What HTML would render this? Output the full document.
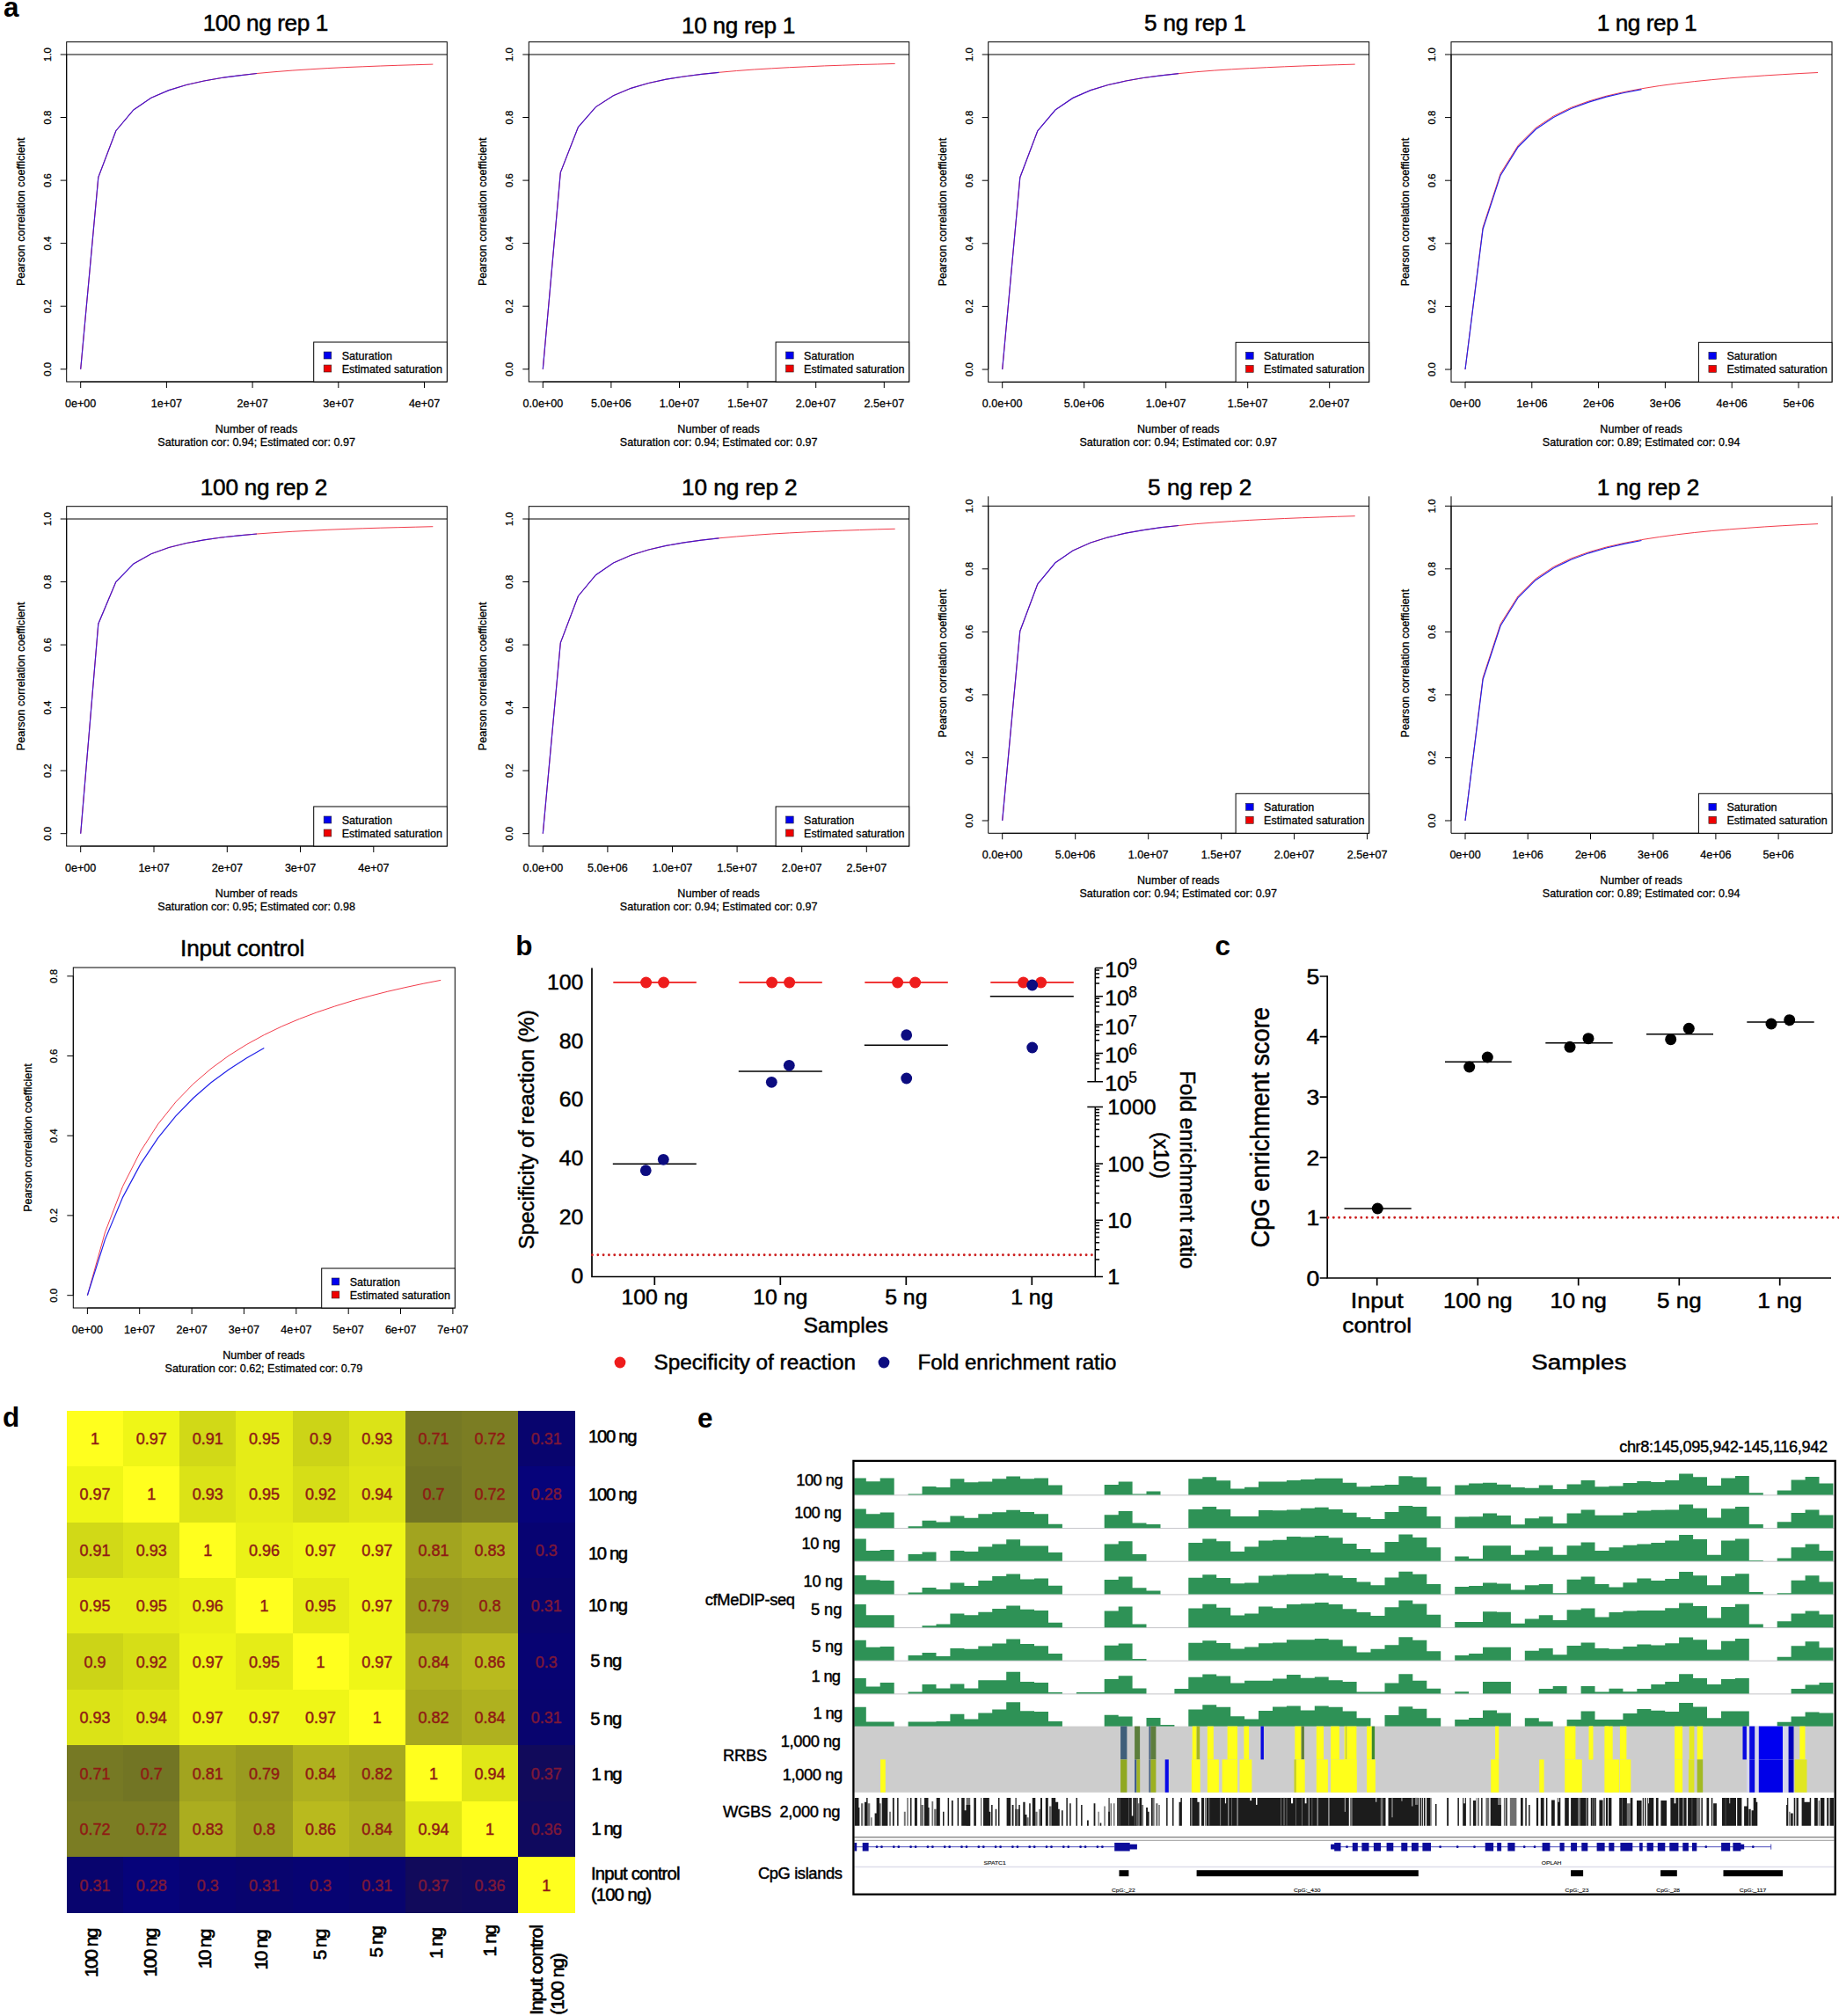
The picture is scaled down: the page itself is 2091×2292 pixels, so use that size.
<!DOCTYPE html>
<html lang="en"><head><meta charset="utf-8"><title>Figure</title>
<style>
html,body{margin:0;padding:0;background:#fff}
svg{display:block}
text{font-family:"Liberation Sans",sans-serif}
</style></head><body>
<svg width="2091" height="2292" viewBox="0 0 2091 2292">
<rect width="2091" height="2292" fill="#fff"/>
<g id="panel-a">
<rect x="75.7" y="47.7" width="432.6" height="386.3" fill="none" stroke="#000" stroke-width="1"/>
<path d="M75.7 62.0H508.3" stroke="#000" stroke-width="1"/>
<path d="M91.7 419.7L111.8 201.6L131.8 148.7L151.8 124.9L171.8 111.3L191.9 102.6L211.9 96.5L231.9 92.0L251.9 88.5L272.0 85.8L292.0 83.5L312.0 81.7L332.1 80.1L352.1 78.8L372.1 77.6L392.1 76.6L412.2 75.8L432.2 75.0L452.2 74.3L472.2 73.7L492.3 73.1" fill="none" stroke="#f03040" stroke-width="0.95"/>
<path d="M91.7 419.7L111.8 201.6L131.8 148.7L151.8 124.9L171.8 111.3L191.9 102.6L211.9 96.5L231.9 92.0L251.9 88.5L272.0 85.8L292.0 83.5" fill="none" stroke="#4414cc" stroke-width="1.2"/>
<text x="57.8" y="419.7" font-size="11.4" text-anchor="middle" transform="rotate(-90 57.8 419.7)" stroke="#000" stroke-width="0.28">0.0</text>
<text x="57.8" y="348.2" font-size="11.4" text-anchor="middle" transform="rotate(-90 57.8 348.2)" stroke="#000" stroke-width="0.28">0.2</text>
<text x="57.8" y="276.6" font-size="11.4" text-anchor="middle" transform="rotate(-90 57.8 276.6)" stroke="#000" stroke-width="0.28">0.4</text>
<text x="57.8" y="205.1" font-size="11.4" text-anchor="middle" transform="rotate(-90 57.8 205.1)" stroke="#000" stroke-width="0.28">0.6</text>
<text x="57.8" y="133.5" font-size="11.4" text-anchor="middle" transform="rotate(-90 57.8 133.5)" stroke="#000" stroke-width="0.28">0.8</text>
<text x="57.8" y="62.0" font-size="11.4" text-anchor="middle" transform="rotate(-90 57.8 62.0)" stroke="#000" stroke-width="0.28">1.0</text>
<text x="91.7" y="462.7" font-size="12.55" text-anchor="middle" stroke="#000" stroke-width="0.28">0e+00</text>
<text x="189.4" y="462.7" font-size="12.55" text-anchor="middle" stroke="#000" stroke-width="0.28">1e+07</text>
<text x="287.1" y="462.7" font-size="12.55" text-anchor="middle" stroke="#000" stroke-width="0.28">2e+07</text>
<text x="384.8" y="462.7" font-size="12.55" text-anchor="middle" stroke="#000" stroke-width="0.28">3e+07</text>
<text x="482.5" y="462.7" font-size="12.55" text-anchor="middle" stroke="#000" stroke-width="0.28">4e+07</text>
<path d="M75.7 419.7h-7M75.7 348.2h-7M75.7 276.6h-7M75.7 205.1h-7M75.7 133.5h-7M75.7 62.0h-7M75.7 419.7V62.0M91.7 434.0v7M189.4 434.0v7M287.1 434.0v7M384.8 434.0v7M482.5 434.0v7M91.7 434.0H482.5" stroke="#000" stroke-width="1" fill="none"/>
<text x="291.6" y="492.0" font-size="12.55" text-anchor="middle" stroke="#000" stroke-width="0.28">Number of reads</text>
<text x="291.6" y="506.7" font-size="12.55" text-anchor="middle" stroke="#000" stroke-width="0.28">Saturation cor: 0.94; Estimated cor: 0.97</text>
<text x="27.9" y="240.8" font-size="12.55" text-anchor="middle" transform="rotate(-90 27.9 240.8)" stroke="#000" stroke-width="0.28">Pearson correlation coefficient</text>
<text x="302.0" y="34.5" font-size="26.2" text-anchor="middle" textLength="142.6" lengthAdjust="spacing" stroke="#000" stroke-width="0.5">100 ng rep 1</text>
<rect x="356.7" y="389.0" width="151.6" height="45" fill="#fff" stroke="#000" stroke-width="1"/>
<rect x="368.2" y="400.0" width="8.6" height="8" fill="#0000f0" stroke="#223" stroke-width="0.6"/>
<rect x="368.2" y="415.0" width="8.6" height="8" fill="#f00000" stroke="#322" stroke-width="0.6"/>
<text x="388.7" y="408.7" font-size="12.55" text-anchor="start" stroke="#000" stroke-width="0.28">Saturation</text>
<text x="388.7" y="423.6" font-size="12.55" text-anchor="start" stroke="#000" stroke-width="0.28">Estimated saturation</text>
<rect x="601.3" y="47.7" width="432.4" height="386.3" fill="none" stroke="#000" stroke-width="1"/>
<path d="M601.3 62.0H1033.7" stroke="#000" stroke-width="1"/>
<path d="M617.3 419.7L637.3 196.1L657.4 144.6L677.4 121.6L697.4 108.7L717.4 100.3L737.4 94.5L757.4 90.2L777.5 87.0L797.5 84.4L817.5 82.3L837.5 80.5L857.5 79.0L877.6 77.8L897.6 76.7L917.6 75.8L937.6 74.9L957.6 74.2L977.6 73.5L997.7 73.0L1017.7 72.4" fill="none" stroke="#f03040" stroke-width="0.95"/>
<path d="M617.3 419.7L637.3 196.1L657.4 144.6L677.4 121.6L697.4 108.7L717.4 100.3L737.4 94.5L757.4 90.2L777.5 87.0L797.5 84.4L817.5 82.3" fill="none" stroke="#4414cc" stroke-width="1.2"/>
<text x="583.4" y="419.7" font-size="11.4" text-anchor="middle" transform="rotate(-90 583.4 419.7)" stroke="#000" stroke-width="0.28">0.0</text>
<text x="583.4" y="348.2" font-size="11.4" text-anchor="middle" transform="rotate(-90 583.4 348.2)" stroke="#000" stroke-width="0.28">0.2</text>
<text x="583.4" y="276.6" font-size="11.4" text-anchor="middle" transform="rotate(-90 583.4 276.6)" stroke="#000" stroke-width="0.28">0.4</text>
<text x="583.4" y="205.1" font-size="11.4" text-anchor="middle" transform="rotate(-90 583.4 205.1)" stroke="#000" stroke-width="0.28">0.6</text>
<text x="583.4" y="133.5" font-size="11.4" text-anchor="middle" transform="rotate(-90 583.4 133.5)" stroke="#000" stroke-width="0.28">0.8</text>
<text x="583.4" y="62.0" font-size="11.4" text-anchor="middle" transform="rotate(-90 583.4 62.0)" stroke="#000" stroke-width="0.28">1.0</text>
<text x="617.3" y="462.7" font-size="12.55" text-anchor="middle" stroke="#000" stroke-width="0.28">0.0e+00</text>
<text x="694.9" y="462.7" font-size="12.55" text-anchor="middle" stroke="#000" stroke-width="0.28">5.0e+06</text>
<text x="772.5" y="462.7" font-size="12.55" text-anchor="middle" stroke="#000" stroke-width="0.28">1.0e+07</text>
<text x="850.1" y="462.7" font-size="12.55" text-anchor="middle" stroke="#000" stroke-width="0.28">1.5e+07</text>
<text x="927.7" y="462.7" font-size="12.55" text-anchor="middle" stroke="#000" stroke-width="0.28">2.0e+07</text>
<text x="1005.3" y="462.7" font-size="12.55" text-anchor="middle" stroke="#000" stroke-width="0.28">2.5e+07</text>
<path d="M601.3 419.7h-7M601.3 348.2h-7M601.3 276.6h-7M601.3 205.1h-7M601.3 133.5h-7M601.3 62.0h-7M601.3 419.7V62.0M617.3 434.0v7M694.9 434.0v7M772.5 434.0v7M850.1 434.0v7M927.7 434.0v7M1005.3 434.0v7M617.3 434.0H1005.3" stroke="#000" stroke-width="1" fill="none"/>
<text x="817.1" y="492.0" font-size="12.55" text-anchor="middle" stroke="#000" stroke-width="0.28">Number of reads</text>
<text x="817.1" y="506.7" font-size="12.55" text-anchor="middle" stroke="#000" stroke-width="0.28">Saturation cor: 0.94; Estimated cor: 0.97</text>
<text x="553.5" y="240.8" font-size="12.55" text-anchor="middle" transform="rotate(-90 553.5 240.8)" stroke="#000" stroke-width="0.28">Pearson correlation coefficient</text>
<text x="839.7" y="38.1" font-size="26.2" text-anchor="middle" textLength="129.2" lengthAdjust="spacing" stroke="#000" stroke-width="0.5">10 ng rep 1</text>
<rect x="882.1" y="389.0" width="151.6" height="45" fill="#fff" stroke="#000" stroke-width="1"/>
<rect x="893.6" y="400.0" width="8.6" height="8" fill="#0000f0" stroke="#223" stroke-width="0.6"/>
<rect x="893.6" y="415.0" width="8.6" height="8" fill="#f00000" stroke="#322" stroke-width="0.6"/>
<text x="914.1" y="408.7" font-size="12.55" text-anchor="start" stroke="#000" stroke-width="0.28">Saturation</text>
<text x="914.1" y="423.6" font-size="12.55" text-anchor="start" stroke="#000" stroke-width="0.28">Estimated saturation</text>
<rect x="1123.7" y="47.7" width="433.0" height="386.6" fill="none" stroke="#000" stroke-width="1"/>
<path d="M1123.7 62.0H1556.7" stroke="#000" stroke-width="1"/>
<path d="M1139.7 420.0L1159.8 201.7L1179.8 148.8L1199.9 125.0L1219.9 111.4L1240.0 102.6L1260.0 96.5L1280.1 92.0L1300.1 88.5L1320.2 85.8L1340.2 83.6L1360.2 81.7L1380.3 80.1L1400.3 78.8L1420.4 77.7L1440.4 76.7L1460.5 75.8L1480.5 75.0L1500.6 74.3L1520.6 73.7L1540.7 73.1" fill="none" stroke="#f03040" stroke-width="0.95"/>
<path d="M1139.7 420.0L1159.8 201.7L1179.8 148.8L1199.9 125.0L1219.9 111.4L1240.0 102.6L1260.0 96.5L1280.1 92.0L1300.1 88.5L1320.2 85.8L1340.2 83.6" fill="none" stroke="#4414cc" stroke-width="1.2"/>
<text x="1105.8" y="420.0" font-size="11.4" text-anchor="middle" transform="rotate(-90 1105.8 420.0)" stroke="#000" stroke-width="0.28">0.0</text>
<text x="1105.8" y="348.4" font-size="11.4" text-anchor="middle" transform="rotate(-90 1105.8 348.4)" stroke="#000" stroke-width="0.28">0.2</text>
<text x="1105.8" y="276.8" font-size="11.4" text-anchor="middle" transform="rotate(-90 1105.8 276.8)" stroke="#000" stroke-width="0.28">0.4</text>
<text x="1105.8" y="205.2" font-size="11.4" text-anchor="middle" transform="rotate(-90 1105.8 205.2)" stroke="#000" stroke-width="0.28">0.6</text>
<text x="1105.8" y="133.6" font-size="11.4" text-anchor="middle" transform="rotate(-90 1105.8 133.6)" stroke="#000" stroke-width="0.28">0.8</text>
<text x="1105.8" y="62.0" font-size="11.4" text-anchor="middle" transform="rotate(-90 1105.8 62.0)" stroke="#000" stroke-width="0.28">1.0</text>
<text x="1139.7" y="463.0" font-size="12.55" text-anchor="middle" stroke="#000" stroke-width="0.28">0.0e+00</text>
<text x="1232.7" y="463.0" font-size="12.55" text-anchor="middle" stroke="#000" stroke-width="0.28">5.0e+06</text>
<text x="1325.7" y="463.0" font-size="12.55" text-anchor="middle" stroke="#000" stroke-width="0.28">1.0e+07</text>
<text x="1418.7" y="463.0" font-size="12.55" text-anchor="middle" stroke="#000" stroke-width="0.28">1.5e+07</text>
<text x="1511.7" y="463.0" font-size="12.55" text-anchor="middle" stroke="#000" stroke-width="0.28">2.0e+07</text>
<path d="M1123.7 420.0h-7M1123.7 348.4h-7M1123.7 276.8h-7M1123.7 205.2h-7M1123.7 133.6h-7M1123.7 62.0h-7M1123.7 420.0V62.0M1139.7 434.3v7M1232.7 434.3v7M1325.7 434.3v7M1418.7 434.3v7M1511.7 434.3v7M1139.7 434.3H1511.7" stroke="#000" stroke-width="1" fill="none"/>
<text x="1339.8" y="492.3" font-size="12.55" text-anchor="middle" stroke="#000" stroke-width="0.28">Number of reads</text>
<text x="1339.8" y="507.0" font-size="12.55" text-anchor="middle" stroke="#000" stroke-width="0.28">Saturation cor: 0.94; Estimated cor: 0.97</text>
<text x="1075.9" y="241.0" font-size="12.55" text-anchor="middle" transform="rotate(-90 1075.9 241.0)" stroke="#000" stroke-width="0.28">Pearson correlation coefficient</text>
<text x="1359.0" y="34.5" font-size="26.2" text-anchor="middle" textLength="115.9" lengthAdjust="spacing" stroke="#000" stroke-width="0.5">5 ng rep 1</text>
<rect x="1405.1" y="389.3" width="151.6" height="45" fill="#fff" stroke="#000" stroke-width="1"/>
<rect x="1416.6" y="400.3" width="8.6" height="8" fill="#0000f0" stroke="#223" stroke-width="0.6"/>
<rect x="1416.6" y="415.3" width="8.6" height="8" fill="#f00000" stroke="#322" stroke-width="0.6"/>
<text x="1437.1" y="409.0" font-size="12.55" text-anchor="start" stroke="#000" stroke-width="0.28">Saturation</text>
<text x="1437.1" y="423.9" font-size="12.55" text-anchor="start" stroke="#000" stroke-width="0.28">Estimated saturation</text>
<rect x="1650.0" y="47.7" width="433.0" height="386.6" fill="none" stroke="#000" stroke-width="1"/>
<path d="M1650.0 62.0H2083.0" stroke="#000" stroke-width="1"/>
<path d="M1666.0 420.0L1686.1 258.4L1706.1 197.3L1726.2 165.2L1746.2 145.4L1766.3 132.0L1786.3 122.3L1806.4 115.0L1826.4 109.2L1846.5 104.6L1866.5 100.8L1886.5 97.6L1906.6 94.9L1926.6 92.6L1946.7 90.6L1966.7 88.8L1986.8 87.3L2006.8 85.9L2026.9 84.7L2046.9 83.5L2067.0 82.5" fill="none" stroke="#f03040" stroke-width="0.95"/>
<path d="M1666.0 420.0L1686.1 260.5L1706.1 199.4L1726.2 167.0L1746.2 147.0L1766.3 133.4L1786.3 123.5L1806.4 116.1L1826.4 110.2L1846.5 105.5L1866.5 101.7" fill="none" stroke="#2222e8" stroke-width="1.2"/>
<text x="1632.1" y="420.0" font-size="11.4" text-anchor="middle" transform="rotate(-90 1632.1 420.0)" stroke="#000" stroke-width="0.28">0.0</text>
<text x="1632.1" y="348.4" font-size="11.4" text-anchor="middle" transform="rotate(-90 1632.1 348.4)" stroke="#000" stroke-width="0.28">0.2</text>
<text x="1632.1" y="276.8" font-size="11.4" text-anchor="middle" transform="rotate(-90 1632.1 276.8)" stroke="#000" stroke-width="0.28">0.4</text>
<text x="1632.1" y="205.2" font-size="11.4" text-anchor="middle" transform="rotate(-90 1632.1 205.2)" stroke="#000" stroke-width="0.28">0.6</text>
<text x="1632.1" y="133.6" font-size="11.4" text-anchor="middle" transform="rotate(-90 1632.1 133.6)" stroke="#000" stroke-width="0.28">0.8</text>
<text x="1632.1" y="62.0" font-size="11.4" text-anchor="middle" transform="rotate(-90 1632.1 62.0)" stroke="#000" stroke-width="0.28">1.0</text>
<text x="1666.0" y="463.0" font-size="12.55" text-anchor="middle" stroke="#000" stroke-width="0.28">0e+00</text>
<text x="1741.8" y="463.0" font-size="12.55" text-anchor="middle" stroke="#000" stroke-width="0.28">1e+06</text>
<text x="1817.6" y="463.0" font-size="12.55" text-anchor="middle" stroke="#000" stroke-width="0.28">2e+06</text>
<text x="1893.4" y="463.0" font-size="12.55" text-anchor="middle" stroke="#000" stroke-width="0.28">3e+06</text>
<text x="1969.2" y="463.0" font-size="12.55" text-anchor="middle" stroke="#000" stroke-width="0.28">4e+06</text>
<text x="2045.0" y="463.0" font-size="12.55" text-anchor="middle" stroke="#000" stroke-width="0.28">5e+06</text>
<path d="M1650.0 420.0h-7M1650.0 348.4h-7M1650.0 276.8h-7M1650.0 205.2h-7M1650.0 133.6h-7M1650.0 62.0h-7M1650.0 420.0V62.0M1666.0 434.3v7M1741.8 434.3v7M1817.6 434.3v7M1893.4 434.3v7M1969.2 434.3v7M2045.0 434.3v7M1666.0 434.3H2045.0" stroke="#000" stroke-width="1" fill="none"/>
<text x="1866.1" y="492.3" font-size="12.55" text-anchor="middle" stroke="#000" stroke-width="0.28">Number of reads</text>
<text x="1866.1" y="507.0" font-size="12.55" text-anchor="middle" stroke="#000" stroke-width="0.28">Saturation cor: 0.89; Estimated cor: 0.94</text>
<text x="1602.2" y="241.0" font-size="12.55" text-anchor="middle" transform="rotate(-90 1602.2 241.0)" stroke="#000" stroke-width="0.28">Pearson correlation coefficient</text>
<text x="1872.7" y="34.5" font-size="26.2" text-anchor="middle" textLength="114.0" lengthAdjust="spacing" stroke="#000" stroke-width="0.5">1 ng rep 1</text>
<rect x="1931.4" y="389.3" width="151.6" height="45" fill="#fff" stroke="#000" stroke-width="1"/>
<rect x="1942.9" y="400.3" width="8.6" height="8" fill="#0000f0" stroke="#223" stroke-width="0.6"/>
<rect x="1942.9" y="415.3" width="8.6" height="8" fill="#f00000" stroke="#322" stroke-width="0.6"/>
<text x="1963.4" y="409.0" font-size="12.55" text-anchor="start" stroke="#000" stroke-width="0.28">Saturation</text>
<text x="1963.4" y="423.9" font-size="12.55" text-anchor="start" stroke="#000" stroke-width="0.28">Estimated saturation</text>
<rect x="75.7" y="575.7" width="432.6" height="386.3" fill="none" stroke="#000" stroke-width="1"/>
<path d="M75.7 590.0H508.3" stroke="#000" stroke-width="1"/>
<path d="M91.7 947.7L111.8 709.2L131.8 661.5L151.8 641.1L171.8 629.8L191.9 622.5L211.9 617.5L231.9 613.9L251.9 611.0L272.0 608.8L292.0 607.0L312.0 605.6L332.1 604.3L352.1 603.3L372.1 602.3L392.1 601.5L412.2 600.8L432.2 600.2L452.2 599.7L472.2 599.2L492.3 598.7" fill="none" stroke="#f03040" stroke-width="0.95"/>
<path d="M91.7 947.7L111.8 709.2L131.8 661.5L151.8 641.1L171.8 629.8L191.9 622.5L211.9 617.5L231.9 613.9L251.9 611.0L272.0 608.8L292.0 607.0" fill="none" stroke="#4414cc" stroke-width="1.2"/>
<text x="57.8" y="947.7" font-size="11.4" text-anchor="middle" transform="rotate(-90 57.8 947.7)" stroke="#000" stroke-width="0.28">0.0</text>
<text x="57.8" y="876.2" font-size="11.4" text-anchor="middle" transform="rotate(-90 57.8 876.2)" stroke="#000" stroke-width="0.28">0.2</text>
<text x="57.8" y="804.6" font-size="11.4" text-anchor="middle" transform="rotate(-90 57.8 804.6)" stroke="#000" stroke-width="0.28">0.4</text>
<text x="57.8" y="733.1" font-size="11.4" text-anchor="middle" transform="rotate(-90 57.8 733.1)" stroke="#000" stroke-width="0.28">0.6</text>
<text x="57.8" y="661.5" font-size="11.4" text-anchor="middle" transform="rotate(-90 57.8 661.5)" stroke="#000" stroke-width="0.28">0.8</text>
<text x="57.8" y="590.0" font-size="11.4" text-anchor="middle" transform="rotate(-90 57.8 590.0)" stroke="#000" stroke-width="0.28">1.0</text>
<text x="91.7" y="990.7" font-size="12.55" text-anchor="middle" stroke="#000" stroke-width="0.28">0e+00</text>
<text x="175.0" y="990.7" font-size="12.55" text-anchor="middle" stroke="#000" stroke-width="0.28">1e+07</text>
<text x="258.3" y="990.7" font-size="12.55" text-anchor="middle" stroke="#000" stroke-width="0.28">2e+07</text>
<text x="341.5" y="990.7" font-size="12.55" text-anchor="middle" stroke="#000" stroke-width="0.28">3e+07</text>
<text x="424.8" y="990.7" font-size="12.55" text-anchor="middle" stroke="#000" stroke-width="0.28">4e+07</text>
<path d="M75.7 947.7h-7M75.7 876.2h-7M75.7 804.6h-7M75.7 733.1h-7M75.7 661.5h-7M75.7 590.0h-7M75.7 947.7V590.0M91.7 962.0v7M175.0 962.0v7M258.3 962.0v7M341.5 962.0v7M424.8 962.0v7M91.7 962.0H424.8" stroke="#000" stroke-width="1" fill="none"/>
<text x="291.6" y="1020.0" font-size="12.55" text-anchor="middle" stroke="#000" stroke-width="0.28">Number of reads</text>
<text x="291.6" y="1034.7" font-size="12.55" text-anchor="middle" stroke="#000" stroke-width="0.28">Saturation cor: 0.95; Estimated cor: 0.98</text>
<text x="27.9" y="768.9" font-size="12.55" text-anchor="middle" transform="rotate(-90 27.9 768.9)" stroke="#000" stroke-width="0.28">Pearson correlation coefficient</text>
<text x="300.0" y="563.1" font-size="26.2" text-anchor="middle" textLength="144.6" lengthAdjust="spacing" stroke="#000" stroke-width="0.5">100 ng rep 2</text>
<rect x="356.7" y="917.0" width="151.6" height="45" fill="#fff" stroke="#000" stroke-width="1"/>
<rect x="368.2" y="928.0" width="8.6" height="8" fill="#0000f0" stroke="#223" stroke-width="0.6"/>
<rect x="368.2" y="943.0" width="8.6" height="8" fill="#f00000" stroke="#322" stroke-width="0.6"/>
<text x="388.7" y="936.7" font-size="12.55" text-anchor="start" stroke="#000" stroke-width="0.28">Saturation</text>
<text x="388.7" y="951.6" font-size="12.55" text-anchor="start" stroke="#000" stroke-width="0.28">Estimated saturation</text>
<rect x="601.3" y="575.7" width="432.4" height="386.3" fill="none" stroke="#000" stroke-width="1"/>
<path d="M601.3 590.0H1033.7" stroke="#000" stroke-width="1"/>
<path d="M617.3 947.7L637.3 730.9L657.4 677.7L677.4 653.7L697.4 640.0L717.4 631.2L737.4 625.0L757.4 620.4L777.5 616.9L797.5 614.1L817.5 611.8L837.5 610.0L857.5 608.4L877.6 607.0L897.6 605.9L917.6 604.9L937.6 604.0L957.6 603.2L977.6 602.5L997.7 601.8L1017.7 601.3" fill="none" stroke="#f03040" stroke-width="0.95"/>
<path d="M617.3 947.7L637.3 730.9L657.4 677.7L677.4 653.7L697.4 640.0L717.4 631.2L737.4 625.0L757.4 620.4L777.5 616.9L797.5 614.1L817.5 611.8" fill="none" stroke="#4414cc" stroke-width="1.2"/>
<text x="583.4" y="947.7" font-size="11.4" text-anchor="middle" transform="rotate(-90 583.4 947.7)" stroke="#000" stroke-width="0.28">0.0</text>
<text x="583.4" y="876.2" font-size="11.4" text-anchor="middle" transform="rotate(-90 583.4 876.2)" stroke="#000" stroke-width="0.28">0.2</text>
<text x="583.4" y="804.6" font-size="11.4" text-anchor="middle" transform="rotate(-90 583.4 804.6)" stroke="#000" stroke-width="0.28">0.4</text>
<text x="583.4" y="733.1" font-size="11.4" text-anchor="middle" transform="rotate(-90 583.4 733.1)" stroke="#000" stroke-width="0.28">0.6</text>
<text x="583.4" y="661.5" font-size="11.4" text-anchor="middle" transform="rotate(-90 583.4 661.5)" stroke="#000" stroke-width="0.28">0.8</text>
<text x="583.4" y="590.0" font-size="11.4" text-anchor="middle" transform="rotate(-90 583.4 590.0)" stroke="#000" stroke-width="0.28">1.0</text>
<text x="617.3" y="990.7" font-size="12.55" text-anchor="middle" stroke="#000" stroke-width="0.28">0.0e+00</text>
<text x="690.9" y="990.7" font-size="12.55" text-anchor="middle" stroke="#000" stroke-width="0.28">5.0e+06</text>
<text x="764.5" y="990.7" font-size="12.55" text-anchor="middle" stroke="#000" stroke-width="0.28">1.0e+07</text>
<text x="838.1" y="990.7" font-size="12.55" text-anchor="middle" stroke="#000" stroke-width="0.28">1.5e+07</text>
<text x="911.7" y="990.7" font-size="12.55" text-anchor="middle" stroke="#000" stroke-width="0.28">2.0e+07</text>
<text x="985.3" y="990.7" font-size="12.55" text-anchor="middle" stroke="#000" stroke-width="0.28">2.5e+07</text>
<path d="M601.3 947.7h-7M601.3 876.2h-7M601.3 804.6h-7M601.3 733.1h-7M601.3 661.5h-7M601.3 590.0h-7M601.3 947.7V590.0M617.3 962.0v7M690.9 962.0v7M764.5 962.0v7M838.1 962.0v7M911.7 962.0v7M985.3 962.0v7M617.3 962.0H985.3" stroke="#000" stroke-width="1" fill="none"/>
<text x="817.1" y="1020.0" font-size="12.55" text-anchor="middle" stroke="#000" stroke-width="0.28">Number of reads</text>
<text x="817.1" y="1034.7" font-size="12.55" text-anchor="middle" stroke="#000" stroke-width="0.28">Saturation cor: 0.94; Estimated cor: 0.97</text>
<text x="553.5" y="768.9" font-size="12.55" text-anchor="middle" transform="rotate(-90 553.5 768.9)" stroke="#000" stroke-width="0.28">Pearson correlation coefficient</text>
<text x="840.9" y="563.1" font-size="26.2" text-anchor="middle" textLength="131.6" lengthAdjust="spacing" stroke="#000" stroke-width="0.5">10 ng rep 2</text>
<rect x="882.1" y="917.0" width="151.6" height="45" fill="#fff" stroke="#000" stroke-width="1"/>
<rect x="893.6" y="928.0" width="8.6" height="8" fill="#0000f0" stroke="#223" stroke-width="0.6"/>
<rect x="893.6" y="943.0" width="8.6" height="8" fill="#f00000" stroke="#322" stroke-width="0.6"/>
<text x="914.1" y="936.7" font-size="12.55" text-anchor="start" stroke="#000" stroke-width="0.28">Saturation</text>
<text x="914.1" y="951.6" font-size="12.55" text-anchor="start" stroke="#000" stroke-width="0.28">Estimated saturation</text>
<path d="M1123.7 564.3V947.3H1556.7V564.3" fill="none" stroke="#000" stroke-width="1"/>
<path d="M1123.7 575.3H1556.7" stroke="#000" stroke-width="1"/>
<path d="M1139.7 933.0L1159.8 717.5L1179.8 664.1L1199.9 639.8L1219.9 626.0L1240.0 617.0L1260.0 610.8L1280.1 606.1L1300.1 602.6L1320.2 599.7L1340.2 597.5L1360.2 595.6L1380.3 594.0L1400.3 592.6L1420.4 591.4L1440.4 590.4L1460.5 589.5L1480.5 588.7L1500.6 588.0L1520.6 587.3L1540.7 586.7" fill="none" stroke="#f03040" stroke-width="0.95"/>
<path d="M1139.7 933.0L1159.8 717.5L1179.8 664.1L1199.9 639.8L1219.9 626.0L1240.0 617.0L1260.0 610.8L1280.1 606.1L1300.1 602.6L1320.2 599.7L1340.2 597.5" fill="none" stroke="#4414cc" stroke-width="1.2"/>
<text x="1105.8" y="933.0" font-size="11.4" text-anchor="middle" transform="rotate(-90 1105.8 933.0)" stroke="#000" stroke-width="0.28">0.0</text>
<text x="1105.8" y="861.5" font-size="11.4" text-anchor="middle" transform="rotate(-90 1105.8 861.5)" stroke="#000" stroke-width="0.28">0.2</text>
<text x="1105.8" y="789.9" font-size="11.4" text-anchor="middle" transform="rotate(-90 1105.8 789.9)" stroke="#000" stroke-width="0.28">0.4</text>
<text x="1105.8" y="718.4" font-size="11.4" text-anchor="middle" transform="rotate(-90 1105.8 718.4)" stroke="#000" stroke-width="0.28">0.6</text>
<text x="1105.8" y="646.8" font-size="11.4" text-anchor="middle" transform="rotate(-90 1105.8 646.8)" stroke="#000" stroke-width="0.28">0.8</text>
<text x="1105.8" y="575.3" font-size="11.4" text-anchor="middle" transform="rotate(-90 1105.8 575.3)" stroke="#000" stroke-width="0.28">1.0</text>
<text x="1139.7" y="976.0" font-size="12.55" text-anchor="middle" stroke="#000" stroke-width="0.28">0.0e+00</text>
<text x="1222.7" y="976.0" font-size="12.55" text-anchor="middle" stroke="#000" stroke-width="0.28">5.0e+06</text>
<text x="1305.7" y="976.0" font-size="12.55" text-anchor="middle" stroke="#000" stroke-width="0.28">1.0e+07</text>
<text x="1388.7" y="976.0" font-size="12.55" text-anchor="middle" stroke="#000" stroke-width="0.28">1.5e+07</text>
<text x="1471.6" y="976.0" font-size="12.55" text-anchor="middle" stroke="#000" stroke-width="0.28">2.0e+07</text>
<text x="1554.6" y="976.0" font-size="12.55" text-anchor="middle" stroke="#000" stroke-width="0.28">2.5e+07</text>
<path d="M1123.7 933.0h-7M1123.7 861.5h-7M1123.7 789.9h-7M1123.7 718.4h-7M1123.7 646.8h-7M1123.7 575.3h-7M1123.7 933.0V575.3M1139.7 947.3v7M1222.7 947.3v7M1305.7 947.3v7M1388.7 947.3v7M1471.6 947.3v7M1554.6 947.3v7M1139.7 947.3H1554.6" stroke="#000" stroke-width="1" fill="none"/>
<text x="1339.8" y="1005.3" font-size="12.55" text-anchor="middle" stroke="#000" stroke-width="0.28">Number of reads</text>
<text x="1339.8" y="1020.0" font-size="12.55" text-anchor="middle" stroke="#000" stroke-width="0.28">Saturation cor: 0.94; Estimated cor: 0.97</text>
<text x="1075.9" y="754.1" font-size="12.55" text-anchor="middle" transform="rotate(-90 1075.9 754.1)" stroke="#000" stroke-width="0.28">Pearson correlation coefficient</text>
<text x="1364.2" y="563.1" font-size="26.2" text-anchor="middle" textLength="118.2" lengthAdjust="spacing" stroke="#000" stroke-width="0.5">5 ng rep 2</text>
<rect x="1405.1" y="902.3" width="151.6" height="45" fill="#fff" stroke="#000" stroke-width="1"/>
<rect x="1416.6" y="913.3" width="8.6" height="8" fill="#0000f0" stroke="#223" stroke-width="0.6"/>
<rect x="1416.6" y="928.3" width="8.6" height="8" fill="#f00000" stroke="#322" stroke-width="0.6"/>
<text x="1437.1" y="922.0" font-size="12.55" text-anchor="start" stroke="#000" stroke-width="0.28">Saturation</text>
<text x="1437.1" y="936.9" font-size="12.55" text-anchor="start" stroke="#000" stroke-width="0.28">Estimated saturation</text>
<path d="M1650.0 564.3V947.3H2083.0V564.3" fill="none" stroke="#000" stroke-width="1"/>
<path d="M1650.0 575.3H2083.0" stroke="#000" stroke-width="1"/>
<path d="M1666.0 933.0L1686.1 770.4L1706.1 709.4L1726.2 677.5L1746.2 657.9L1766.3 644.5L1786.3 634.9L1806.4 627.7L1826.4 622.0L1846.5 617.4L1866.5 613.6L1886.5 610.5L1906.6 607.8L1926.6 605.5L1946.7 603.5L1966.7 601.8L1986.8 600.3L2006.8 598.9L2026.9 597.7L2046.9 596.6L2067.0 595.6" fill="none" stroke="#f03040" stroke-width="0.95"/>
<path d="M1666.0 933.0L1686.1 772.6L1706.1 711.5L1726.2 679.3L1746.2 659.4L1766.3 645.9L1786.3 636.2L1806.4 628.8L1826.4 623.0L1846.5 618.3L1866.5 614.5" fill="none" stroke="#2222e8" stroke-width="1.2"/>
<text x="1632.1" y="933.0" font-size="11.4" text-anchor="middle" transform="rotate(-90 1632.1 933.0)" stroke="#000" stroke-width="0.28">0.0</text>
<text x="1632.1" y="861.5" font-size="11.4" text-anchor="middle" transform="rotate(-90 1632.1 861.5)" stroke="#000" stroke-width="0.28">0.2</text>
<text x="1632.1" y="789.9" font-size="11.4" text-anchor="middle" transform="rotate(-90 1632.1 789.9)" stroke="#000" stroke-width="0.28">0.4</text>
<text x="1632.1" y="718.4" font-size="11.4" text-anchor="middle" transform="rotate(-90 1632.1 718.4)" stroke="#000" stroke-width="0.28">0.6</text>
<text x="1632.1" y="646.8" font-size="11.4" text-anchor="middle" transform="rotate(-90 1632.1 646.8)" stroke="#000" stroke-width="0.28">0.8</text>
<text x="1632.1" y="575.3" font-size="11.4" text-anchor="middle" transform="rotate(-90 1632.1 575.3)" stroke="#000" stroke-width="0.28">1.0</text>
<text x="1666.0" y="976.0" font-size="12.55" text-anchor="middle" stroke="#000" stroke-width="0.28">0e+00</text>
<text x="1737.2" y="976.0" font-size="12.55" text-anchor="middle" stroke="#000" stroke-width="0.28">1e+06</text>
<text x="1808.5" y="976.0" font-size="12.55" text-anchor="middle" stroke="#000" stroke-width="0.28">2e+06</text>
<text x="1879.7" y="976.0" font-size="12.55" text-anchor="middle" stroke="#000" stroke-width="0.28">3e+06</text>
<text x="1950.9" y="976.0" font-size="12.55" text-anchor="middle" stroke="#000" stroke-width="0.28">4e+06</text>
<text x="2022.1" y="976.0" font-size="12.55" text-anchor="middle" stroke="#000" stroke-width="0.28">5e+06</text>
<path d="M1650.0 933.0h-7M1650.0 861.5h-7M1650.0 789.9h-7M1650.0 718.4h-7M1650.0 646.8h-7M1650.0 575.3h-7M1650.0 933.0V575.3M1666.0 947.3v7M1737.2 947.3v7M1808.5 947.3v7M1879.7 947.3v7M1950.9 947.3v7M2022.1 947.3v7M1666.0 947.3H2022.1" stroke="#000" stroke-width="1" fill="none"/>
<text x="1866.1" y="1005.3" font-size="12.55" text-anchor="middle" stroke="#000" stroke-width="0.28">Number of reads</text>
<text x="1866.1" y="1020.0" font-size="12.55" text-anchor="middle" stroke="#000" stroke-width="0.28">Saturation cor: 0.89; Estimated cor: 0.94</text>
<text x="1602.2" y="754.1" font-size="12.55" text-anchor="middle" transform="rotate(-90 1602.2 754.1)" stroke="#000" stroke-width="0.28">Pearson correlation coefficient</text>
<text x="1874.0" y="563.1" font-size="26.2" text-anchor="middle" textLength="116.6" lengthAdjust="spacing" stroke="#000" stroke-width="0.5">1 ng rep 2</text>
<rect x="1931.4" y="902.3" width="151.6" height="45" fill="#fff" stroke="#000" stroke-width="1"/>
<rect x="1942.9" y="913.3" width="8.6" height="8" fill="#0000f0" stroke="#223" stroke-width="0.6"/>
<rect x="1942.9" y="928.3" width="8.6" height="8" fill="#f00000" stroke="#322" stroke-width="0.6"/>
<text x="1963.4" y="922.0" font-size="12.55" text-anchor="start" stroke="#000" stroke-width="0.28">Saturation</text>
<text x="1963.4" y="936.9" font-size="12.55" text-anchor="start" stroke="#000" stroke-width="0.28">Estimated saturation</text>
<rect x="83.3" y="1100.0" width="434.0" height="387.0" fill="none" stroke="#000" stroke-width="1"/>
<path d="M99.4 1472.7L119.5 1400.9L139.6 1348.7L159.7 1309.1L179.7 1278.0L199.8 1252.9L219.9 1232.2L240.0 1214.9L260.1 1200.2L280.2 1187.6L300.3 1176.6L320.4 1166.9L340.5 1158.4L360.6 1150.8L380.7 1144.0L400.8 1137.8L420.9 1132.3L440.9 1127.2L461.0 1122.6L481.1 1118.3L501.2 1114.4" fill="none" stroke="#f03040" stroke-width="0.95"/>
<path d="M99.4 1472.7L119.5 1409.1L139.6 1361.1L159.7 1323.6L179.7 1293.6L199.8 1268.9L219.9 1248.3L240.0 1230.8L260.1 1215.9L280.2 1202.9L300.3 1191.5" fill="none" stroke="#2222e8" stroke-width="1.2"/>
<text x="65.4" y="1472.7" font-size="11.4" text-anchor="middle" transform="rotate(-90 65.4 1472.7)" stroke="#000" stroke-width="0.28">0.0</text>
<text x="65.4" y="1381.9" font-size="11.4" text-anchor="middle" transform="rotate(-90 65.4 1381.9)" stroke="#000" stroke-width="0.28">0.2</text>
<text x="65.4" y="1291.2" font-size="11.4" text-anchor="middle" transform="rotate(-90 65.4 1291.2)" stroke="#000" stroke-width="0.28">0.4</text>
<text x="65.4" y="1200.5" font-size="11.4" text-anchor="middle" transform="rotate(-90 65.4 1200.5)" stroke="#000" stroke-width="0.28">0.6</text>
<text x="65.4" y="1109.8" font-size="11.4" text-anchor="middle" transform="rotate(-90 65.4 1109.8)" stroke="#000" stroke-width="0.28">0.8</text>
<text x="99.4" y="1515.7" font-size="12.55" text-anchor="middle" stroke="#000" stroke-width="0.28">0e+00</text>
<text x="158.7" y="1515.7" font-size="12.55" text-anchor="middle" stroke="#000" stroke-width="0.28">1e+07</text>
<text x="218.1" y="1515.7" font-size="12.55" text-anchor="middle" stroke="#000" stroke-width="0.28">2e+07</text>
<text x="277.4" y="1515.7" font-size="12.55" text-anchor="middle" stroke="#000" stroke-width="0.28">3e+07</text>
<text x="336.8" y="1515.7" font-size="12.55" text-anchor="middle" stroke="#000" stroke-width="0.28">4e+07</text>
<text x="396.2" y="1515.7" font-size="12.55" text-anchor="middle" stroke="#000" stroke-width="0.28">5e+07</text>
<text x="455.5" y="1515.7" font-size="12.55" text-anchor="middle" stroke="#000" stroke-width="0.28">6e+07</text>
<text x="514.9" y="1515.7" font-size="12.55" text-anchor="middle" stroke="#000" stroke-width="0.28">7e+07</text>
<path d="M83.3 1472.7h-7M83.3 1381.9h-7M83.3 1291.2h-7M83.3 1200.5h-7M83.3 1109.8h-7M83.3 1472.7V1109.8M99.4 1487.0v7M158.7 1487.0v7M218.1 1487.0v7M277.4 1487.0v7M336.8 1487.0v7M396.2 1487.0v7M455.5 1487.0v7M514.9 1487.0v7M99.4 1487.0H514.9" stroke="#000" stroke-width="1" fill="none"/>
<text x="299.9" y="1545.0" font-size="12.55" text-anchor="middle" stroke="#000" stroke-width="0.28">Number of reads</text>
<text x="299.9" y="1559.7" font-size="12.55" text-anchor="middle" stroke="#000" stroke-width="0.28">Saturation cor: 0.62; Estimated cor: 0.79</text>
<text x="35.5" y="1293.5" font-size="12.55" text-anchor="middle" transform="rotate(-90 35.5 1293.5)" stroke="#000" stroke-width="0.28">Pearson correlation coefficient</text>
<text x="275.7" y="1086.5" font-size="26.2" text-anchor="middle" textLength="141.2" lengthAdjust="spacing" stroke="#000" stroke-width="0.5">Input control</text>
<rect x="365.7" y="1442.0" width="151.6" height="45" fill="#fff" stroke="#000" stroke-width="1"/>
<rect x="377.2" y="1453.0" width="8.6" height="8" fill="#0000f0" stroke="#223" stroke-width="0.6"/>
<rect x="377.2" y="1468.0" width="8.6" height="8" fill="#f00000" stroke="#322" stroke-width="0.6"/>
<text x="397.7" y="1461.7" font-size="12.55" text-anchor="start" stroke="#000" stroke-width="0.28">Saturation</text>
<text x="397.7" y="1476.6" font-size="12.55" text-anchor="start" stroke="#000" stroke-width="0.28">Estimated saturation</text>
</g>
<g id="panel-b">
<path d="M673 1100.5V1451.5H1246" fill="none" stroke="#000" stroke-width="1.7"/>
<text x="663.3" y="1458.6" font-size="24.8" text-anchor="end" stroke="#000" stroke-width="0.5">0</text>
<text x="663.3" y="1391.8" font-size="24.8" text-anchor="end" stroke="#000" stroke-width="0.5">20</text>
<text x="663.3" y="1325.1" font-size="24.8" text-anchor="end" stroke="#000" stroke-width="0.5">40</text>
<text x="663.3" y="1258.3" font-size="24.8" text-anchor="end" stroke="#000" stroke-width="0.5">60</text>
<text x="663.3" y="1191.6" font-size="24.8" text-anchor="end" stroke="#000" stroke-width="0.5">80</text>
<text x="663.3" y="1124.8" font-size="24.8" text-anchor="end" stroke="#000" stroke-width="0.5">100</text>
<text x="607.2" y="1284.3" font-size="24.8" text-anchor="middle" transform="rotate(-90 607.2 1284.3)" textLength="272.0" lengthAdjust="spacingAndGlyphs" stroke="#000" stroke-width="0.5">Specificity of reaction (%)</text>
<path d="M744.3 1451.5v9.5M887.3 1451.5v9.5M1030.3 1451.5v9.5M1173.3 1451.5v9.5" stroke="#000" stroke-width="1.7"/>
<text x="744.3" y="1483.3" font-size="24.8" text-anchor="middle" stroke="#000" stroke-width="0.5">100 ng</text>
<text x="887.3" y="1483.3" font-size="24.8" text-anchor="middle" stroke="#000" stroke-width="0.5">10 ng</text>
<text x="1030.3" y="1483.3" font-size="24.8" text-anchor="middle" stroke="#000" stroke-width="0.5">5 ng</text>
<text x="1173.3" y="1483.3" font-size="24.8" text-anchor="middle" stroke="#000" stroke-width="0.5">1 ng</text>
<text x="961.7" y="1515.0" font-size="24.8" text-anchor="middle" stroke="#000" stroke-width="0.5">Samples</text>
<path d="M673.5 1426.7H1245.0" stroke="#cc1f1f" stroke-width="2.9" stroke-linecap="round" stroke-dasharray="0.01 6.3" fill="none"/>
<path d="M697.3 1116.8H791.8" stroke="#ee1c1c" stroke-width="1.7"/>
<path d="M840.3 1116.8H934.8" stroke="#ee1c1c" stroke-width="1.7"/>
<path d="M983.3 1116.8H1077.8" stroke="#ee1c1c" stroke-width="1.7"/>
<path d="M1126.3 1116.8H1220.8" stroke="#ee1c1c" stroke-width="1.7"/>
<path d="M696.8 1323.3H791.8" stroke="#000" stroke-width="1.6"/>
<path d="M839.8 1218.0H934.8" stroke="#000" stroke-width="1.6"/>
<path d="M982.8 1188.3H1077.8" stroke="#000" stroke-width="1.6"/>
<path d="M1125.8 1132.7H1220.8" stroke="#000" stroke-width="1.6"/>
<circle cx="734.6" cy="1117" r="6.5" fill="#ee1c1c"/>
<circle cx="754.6" cy="1117" r="6.5" fill="#ee1c1c"/>
<circle cx="877.6" cy="1117" r="6.5" fill="#ee1c1c"/>
<circle cx="897.6" cy="1117" r="6.5" fill="#ee1c1c"/>
<circle cx="1020.6" cy="1117" r="6.5" fill="#ee1c1c"/>
<circle cx="1040.6" cy="1117" r="6.5" fill="#ee1c1c"/>
<circle cx="1163.6" cy="1117" r="6.5" fill="#ee1c1c"/>
<circle cx="1183.6" cy="1117" r="6.5" fill="#ee1c1c"/>
<circle cx="734.3" cy="1330.7" r="6.4" fill="#0c0c80"/>
<circle cx="754.3" cy="1318.3" r="6.4" fill="#0c0c80"/>
<circle cx="877.3" cy="1230.3" r="6.4" fill="#0c0c80"/>
<circle cx="897.3" cy="1211.3" r="6.4" fill="#0c0c80"/>
<circle cx="1030.7" cy="1176.7" r="6.4" fill="#0c0c80"/>
<circle cx="1030.7" cy="1226.0" r="6.4" fill="#0c0c80"/>
<circle cx="1173.7" cy="1120.0" r="6.4" fill="#0c0c80"/>
<circle cx="1173.7" cy="1191.0" r="6.4" fill="#0c0c80"/>
<text x="1256.3" y="1111.1" font-size="24.8" text-anchor="start" stroke="#000" stroke-width="0.5">10</text>
<text x="1283.3" y="1102.1" font-size="17.5" text-anchor="start" stroke="#000" stroke-width="0.24">9</text>
<text x="1256.3" y="1143.4" font-size="24.8" text-anchor="start" stroke="#000" stroke-width="0.5">10</text>
<text x="1283.3" y="1134.4" font-size="17.5" text-anchor="start" stroke="#000" stroke-width="0.24">8</text>
<text x="1256.3" y="1175.7" font-size="24.8" text-anchor="start" stroke="#000" stroke-width="0.5">10</text>
<text x="1283.3" y="1166.7" font-size="17.5" text-anchor="start" stroke="#000" stroke-width="0.24">7</text>
<text x="1256.3" y="1208.0" font-size="24.8" text-anchor="start" stroke="#000" stroke-width="0.5">10</text>
<text x="1283.3" y="1199.0" font-size="17.5" text-anchor="start" stroke="#000" stroke-width="0.24">6</text>
<text x="1256.3" y="1240.3" font-size="24.8" text-anchor="start" stroke="#000" stroke-width="0.5">10</text>
<text x="1283.3" y="1231.3" font-size="17.5" text-anchor="start" stroke="#000" stroke-width="0.24">5</text>
<text x="1259.3" y="1267.4" font-size="24.8" text-anchor="start" stroke="#000" stroke-width="0.5">1000</text>
<text x="1259.3" y="1331.7" font-size="24.8" text-anchor="start" stroke="#000" stroke-width="0.5">100</text>
<text x="1259.3" y="1396.0" font-size="24.8" text-anchor="start" stroke="#000" stroke-width="0.5">10</text>
<text x="1259.3" y="1460.3" font-size="24.8" text-anchor="start" stroke="#000" stroke-width="0.5">1</text>
<path d="M1245.3 1100.5V1229.7M1236.3 1229.7H1254.0M1245.3 1258.6V1451.5M1236.3 1258.6H1254.0M1245.3 1451.5H1254.0M1245.3 1100.5H1254.0M1245.3 1103.0h4.8M1245.3 1107.0h4.8M1245.3 1111.6h4.8M1245.3 1118.1h4.8M1245.3 1132.8H1254.0M1245.3 1135.3h4.8M1245.3 1139.3h4.8M1245.3 1143.9h4.8M1245.3 1150.4h4.8M1245.3 1165.1H1254.0M1245.3 1167.6h4.8M1245.3 1171.6h4.8M1245.3 1176.2h4.8M1245.3 1182.7h4.8M1245.3 1197.4H1254.0M1245.3 1199.9h4.8M1245.3 1203.9h4.8M1245.3 1208.5h4.8M1245.3 1215.0h4.8M1245.3 1258.6H1254.0M1245.3 1303.5h4.8M1245.3 1292.2h4.8M1245.3 1284.2h4.8M1245.3 1278.0h4.8M1245.3 1272.9h4.8M1245.3 1268.6h4.8M1245.3 1264.8h4.8M1245.3 1261.5h4.8M1245.3 1322.9H1254.0M1245.3 1367.8h4.8M1245.3 1356.5h4.8M1245.3 1348.5h4.8M1245.3 1342.3h4.8M1245.3 1337.2h4.8M1245.3 1332.9h4.8M1245.3 1329.1h4.8M1245.3 1325.8h4.8M1245.3 1387.2H1254.0M1245.3 1432.1h4.8M1245.3 1420.8h4.8M1245.3 1412.8h4.8M1245.3 1406.6h4.8M1245.3 1401.5h4.8M1245.3 1397.2h4.8M1245.3 1393.4h4.8M1245.3 1390.1h4.8" stroke="#000" stroke-width="1.5" fill="none"/>
<text x="1341.9" y="1330.0" font-size="24.8" text-anchor="middle" transform="rotate(90 1341.9 1330.0)" textLength="225.0" lengthAdjust="spacingAndGlyphs" stroke="#000" stroke-width="0.5">Fold enrichment ratio</text>
<text x="1311.9" y="1313.5" font-size="24.8" text-anchor="middle" transform="rotate(90 1311.9 1313.5)" textLength="53.0" lengthAdjust="spacingAndGlyphs" stroke="#000" stroke-width="0.5">(x10)</text>
<circle cx="705" cy="1549" r="6.4" fill="#ee1c1c"/>
<text x="743.5" y="1556.7" font-size="24.8" text-anchor="start" textLength="229.5" lengthAdjust="spacingAndGlyphs" stroke="#000" stroke-width="0.5">Specificity of reaction</text>
<circle cx="1005" cy="1549" r="6.4" fill="#0c0c80"/>
<text x="1043.5" y="1556.7" font-size="24.8" text-anchor="start" textLength="226.0" lengthAdjust="spacingAndGlyphs" stroke="#000" stroke-width="0.5">Fold enrichment ratio</text>
</g>
<g id="panel-c">
<path d="M1509.2 1109.2V1453H2082" fill="none" stroke="#000" stroke-width="1.7"/>
<text x="1500.2" y="1461.8" font-size="24.5" text-anchor="end" textLength="14.8" lengthAdjust="spacingAndGlyphs" stroke="#000" stroke-width="0.5">0</text>
<text x="1500.2" y="1393.2" font-size="24.5" text-anchor="end" textLength="14.8" lengthAdjust="spacingAndGlyphs" stroke="#000" stroke-width="0.5">1</text>
<text x="1500.2" y="1324.6" font-size="24.5" text-anchor="end" textLength="14.8" lengthAdjust="spacingAndGlyphs" stroke="#000" stroke-width="0.5">2</text>
<text x="1500.2" y="1256.0" font-size="24.5" text-anchor="end" textLength="14.8" lengthAdjust="spacingAndGlyphs" stroke="#000" stroke-width="0.5">3</text>
<text x="1500.2" y="1187.4" font-size="24.5" text-anchor="end" textLength="14.8" lengthAdjust="spacingAndGlyphs" stroke="#000" stroke-width="0.5">4</text>
<text x="1500.2" y="1118.8" font-size="24.5" text-anchor="end" textLength="14.8" lengthAdjust="spacingAndGlyphs" stroke="#000" stroke-width="0.5">5</text>
<path d="M1509.2 1453.0h-8.5M1509.2 1384.4h-8.5M1509.2 1315.8h-8.5M1509.2 1247.2h-8.5M1509.2 1178.6h-8.5M1509.2 1110.0h-8.5M1565.7 1453v8.5M1680.3 1453v8.5M1794.7 1453v8.5M1909.3 1453v8.5M2023.7 1453v8.5" stroke="#000" stroke-width="1.7" fill="none"/>
<text x="1565.7" y="1486.9" font-size="24.5" text-anchor="middle" textLength="60.0" lengthAdjust="spacingAndGlyphs" stroke="#000" stroke-width="0.5">Input</text>
<text x="1565.7" y="1515.3" font-size="24.5" text-anchor="middle" textLength="78.8" lengthAdjust="spacingAndGlyphs" stroke="#000" stroke-width="0.5">control</text>
<text x="1680.3" y="1486.9" font-size="24.5" text-anchor="middle" textLength="78.8" lengthAdjust="spacingAndGlyphs" stroke="#000" stroke-width="0.5">100 ng</text>
<text x="1794.7" y="1486.9" font-size="24.5" text-anchor="middle" textLength="64.5" lengthAdjust="spacingAndGlyphs" stroke="#000" stroke-width="0.5">10 ng</text>
<text x="1909.3" y="1486.9" font-size="24.5" text-anchor="middle" textLength="50.6" lengthAdjust="spacingAndGlyphs" stroke="#000" stroke-width="0.5">5 ng</text>
<text x="2023.7" y="1486.9" font-size="24.5" text-anchor="middle" textLength="50.8" lengthAdjust="spacingAndGlyphs" stroke="#000" stroke-width="0.5">1 ng</text>
<text x="1795.3" y="1556.7" font-size="24.5" text-anchor="middle" textLength="108.2" lengthAdjust="spacingAndGlyphs" stroke="#000" stroke-width="0.5">Samples</text>
<text x="1443.2" y="1281.7" font-size="29.5" text-anchor="middle" transform="rotate(-90 1443.2 1281.7)" textLength="273.5" lengthAdjust="spacingAndGlyphs" stroke="#000" stroke-width="0.5">CpG enrichment score</text>
<path d="M1510.0 1384.3H2091.0" stroke="#cc1f1f" stroke-width="2.9" stroke-linecap="round" stroke-dasharray="0.01 6.3" fill="none"/>
<path d="M1528.5 1374.0H1604.7" stroke="#000" stroke-width="1.6"/>
<path d="M1643.0 1207.3H1718.7" stroke="#000" stroke-width="1.6"/>
<path d="M1757.3 1185.7H1833.7" stroke="#000" stroke-width="1.6"/>
<path d="M1872.0 1175.7H1948.0" stroke="#000" stroke-width="1.6"/>
<path d="M1986.3 1162.0H2062.7" stroke="#000" stroke-width="1.6"/>
<circle cx="1566.3" cy="1374.0" r="6.5" fill="#000"/>
<circle cx="1670.7" cy="1213.0" r="6.5" fill="#000"/>
<circle cx="1691.3" cy="1202.0" r="6.5" fill="#000"/>
<circle cx="1785.0" cy="1190.3" r="6.5" fill="#000"/>
<circle cx="1806.0" cy="1180.7" r="6.5" fill="#000"/>
<circle cx="1899.7" cy="1181.7" r="6.5" fill="#000"/>
<circle cx="1920.3" cy="1169.3" r="6.5" fill="#000"/>
<circle cx="2014.0" cy="1164.0" r="6.5" fill="#000"/>
<circle cx="2034.7" cy="1159.7" r="6.5" fill="#000"/>
</g>
<g id="panel-d">
<g shape-rendering="crispEdges">
<rect x="76.0" y="1603.7" width="64.4" height="63.7" fill="#ffff1e"/>
<rect x="140.1" y="1603.7" width="64.4" height="63.7" fill="#eff617"/>
<rect x="204.3" y="1603.7" width="64.4" height="63.7" fill="#d1d917"/>
<rect x="268.4" y="1603.7" width="64.4" height="63.7" fill="#e5ec17"/>
<rect x="332.6" y="1603.7" width="64.4" height="63.7" fill="#ccd417"/>
<rect x="396.7" y="1603.7" width="64.4" height="63.7" fill="#dbe317"/>
<rect x="460.8" y="1603.7" width="64.4" height="63.7" fill="#767924"/>
<rect x="525.0" y="1603.7" width="64.4" height="63.7" fill="#7b7d23"/>
<rect x="589.1" y="1603.7" width="64.4" height="63.7" fill="#08046e"/>
<rect x="76.0" y="1667.1" width="64.4" height="63.7" fill="#eff617"/>
<rect x="140.1" y="1667.1" width="64.4" height="63.7" fill="#ffff1e"/>
<rect x="204.3" y="1667.1" width="64.4" height="63.7" fill="#dbe317"/>
<rect x="268.4" y="1667.1" width="64.4" height="63.7" fill="#e5ec17"/>
<rect x="332.6" y="1667.1" width="64.4" height="63.7" fill="#d6de17"/>
<rect x="396.7" y="1667.1" width="64.4" height="63.7" fill="#e0e717"/>
<rect x="460.8" y="1667.1" width="64.4" height="63.7" fill="#727524"/>
<rect x="525.0" y="1667.1" width="64.4" height="63.7" fill="#7b7d23"/>
<rect x="589.1" y="1667.1" width="64.4" height="63.7" fill="#06037a"/>
<rect x="76.0" y="1730.6" width="64.4" height="63.7" fill="#d1d917"/>
<rect x="140.1" y="1730.6" width="64.4" height="63.7" fill="#dbe317"/>
<rect x="204.3" y="1730.6" width="64.4" height="63.7" fill="#ffff1e"/>
<rect x="268.4" y="1730.6" width="64.4" height="63.7" fill="#eaf117"/>
<rect x="332.6" y="1730.6" width="64.4" height="63.7" fill="#eff617"/>
<rect x="396.7" y="1730.6" width="64.4" height="63.7" fill="#eff617"/>
<rect x="460.8" y="1730.6" width="64.4" height="63.7" fill="#a2a41f"/>
<rect x="525.0" y="1730.6" width="64.4" height="63.7" fill="#abad1f"/>
<rect x="589.1" y="1730.6" width="64.4" height="63.7" fill="#070372"/>
<rect x="76.0" y="1794.0" width="64.4" height="63.7" fill="#e5ec17"/>
<rect x="140.1" y="1794.0" width="64.4" height="63.7" fill="#e5ec17"/>
<rect x="204.3" y="1794.0" width="64.4" height="63.7" fill="#eaf117"/>
<rect x="268.4" y="1794.0" width="64.4" height="63.7" fill="#ffff1e"/>
<rect x="332.6" y="1794.0" width="64.4" height="63.7" fill="#e5ec17"/>
<rect x="396.7" y="1794.0" width="64.4" height="63.7" fill="#eff617"/>
<rect x="460.8" y="1794.0" width="64.4" height="63.7" fill="#999b20"/>
<rect x="525.0" y="1794.0" width="64.4" height="63.7" fill="#9d9f1f"/>
<rect x="589.1" y="1794.0" width="64.4" height="63.7" fill="#08046e"/>
<rect x="76.0" y="1857.4" width="64.4" height="63.7" fill="#ccd417"/>
<rect x="140.1" y="1857.4" width="64.4" height="63.7" fill="#d6de17"/>
<rect x="204.3" y="1857.4" width="64.4" height="63.7" fill="#eff617"/>
<rect x="268.4" y="1857.4" width="64.4" height="63.7" fill="#e5ec17"/>
<rect x="332.6" y="1857.4" width="64.4" height="63.7" fill="#ffff1e"/>
<rect x="396.7" y="1857.4" width="64.4" height="63.7" fill="#eff617"/>
<rect x="460.8" y="1857.4" width="64.4" height="63.7" fill="#afb11f"/>
<rect x="525.0" y="1857.4" width="64.4" height="63.7" fill="#b9ba1e"/>
<rect x="589.1" y="1857.4" width="64.4" height="63.7" fill="#070372"/>
<rect x="76.0" y="1920.8" width="64.4" height="63.7" fill="#dbe317"/>
<rect x="140.1" y="1920.8" width="64.4" height="63.7" fill="#e0e717"/>
<rect x="204.3" y="1920.8" width="64.4" height="63.7" fill="#eff617"/>
<rect x="268.4" y="1920.8" width="64.4" height="63.7" fill="#eff617"/>
<rect x="332.6" y="1920.8" width="64.4" height="63.7" fill="#eff617"/>
<rect x="396.7" y="1920.8" width="64.4" height="63.7" fill="#ffff1e"/>
<rect x="460.8" y="1920.8" width="64.4" height="63.7" fill="#a6a81f"/>
<rect x="525.0" y="1920.8" width="64.4" height="63.7" fill="#afb11f"/>
<rect x="589.1" y="1920.8" width="64.4" height="63.7" fill="#08046e"/>
<rect x="76.0" y="1984.3" width="64.4" height="63.7" fill="#767924"/>
<rect x="140.1" y="1984.3" width="64.4" height="63.7" fill="#727524"/>
<rect x="204.3" y="1984.3" width="64.4" height="63.7" fill="#a2a41f"/>
<rect x="268.4" y="1984.3" width="64.4" height="63.7" fill="#999b20"/>
<rect x="332.6" y="1984.3" width="64.4" height="63.7" fill="#afb11f"/>
<rect x="396.7" y="1984.3" width="64.4" height="63.7" fill="#a6a81f"/>
<rect x="460.8" y="1984.3" width="64.4" height="63.7" fill="#ffff1e"/>
<rect x="525.0" y="1984.3" width="64.4" height="63.7" fill="#e0e717"/>
<rect x="589.1" y="1984.3" width="64.4" height="63.7" fill="#110a5b"/>
<rect x="76.0" y="2047.7" width="64.4" height="63.7" fill="#7b7d23"/>
<rect x="140.1" y="2047.7" width="64.4" height="63.7" fill="#7b7d23"/>
<rect x="204.3" y="2047.7" width="64.4" height="63.7" fill="#abad1f"/>
<rect x="268.4" y="2047.7" width="64.4" height="63.7" fill="#9d9f1f"/>
<rect x="332.6" y="2047.7" width="64.4" height="63.7" fill="#b9ba1e"/>
<rect x="396.7" y="2047.7" width="64.4" height="63.7" fill="#afb11f"/>
<rect x="460.8" y="2047.7" width="64.4" height="63.7" fill="#e0e717"/>
<rect x="525.0" y="2047.7" width="64.4" height="63.7" fill="#ffff1e"/>
<rect x="589.1" y="2047.7" width="64.4" height="63.7" fill="#0f095e"/>
<rect x="76.0" y="2111.1" width="64.4" height="63.7" fill="#08046e"/>
<rect x="140.1" y="2111.1" width="64.4" height="63.7" fill="#06037a"/>
<rect x="204.3" y="2111.1" width="64.4" height="63.7" fill="#070372"/>
<rect x="268.4" y="2111.1" width="64.4" height="63.7" fill="#08046e"/>
<rect x="332.6" y="2111.1" width="64.4" height="63.7" fill="#070372"/>
<rect x="396.7" y="2111.1" width="64.4" height="63.7" fill="#08046e"/>
<rect x="460.8" y="2111.1" width="64.4" height="63.7" fill="#110a5b"/>
<rect x="525.0" y="2111.1" width="64.4" height="63.7" fill="#0f095e"/>
<rect x="589.1" y="2111.1" width="64.4" height="63.7" fill="#ffff1e"/>
</g>
<g>
<text x="108.1" y="1642.0" font-size="18" text-anchor="middle" fill="#8f1a14" stroke="#8f1a14" stroke-width="0.45">1</text>
<text x="172.2" y="1642.0" font-size="18" text-anchor="middle" fill="#8f1a14" stroke="#8f1a14" stroke-width="0.45">0.97</text>
<text x="236.3" y="1642.0" font-size="18" text-anchor="middle" fill="#8f1a14" stroke="#8f1a14" stroke-width="0.45">0.91</text>
<text x="300.5" y="1642.0" font-size="18" text-anchor="middle" fill="#8f1a14" stroke="#8f1a14" stroke-width="0.45">0.95</text>
<text x="364.6" y="1642.0" font-size="18" text-anchor="middle" fill="#8f1a14" stroke="#8f1a14" stroke-width="0.45">0.9</text>
<text x="428.8" y="1642.0" font-size="18" text-anchor="middle" fill="#8f1a14" stroke="#8f1a14" stroke-width="0.45">0.93</text>
<text x="492.9" y="1642.0" font-size="18" text-anchor="middle" fill="#8f1a14" stroke="#8f1a14" stroke-width="0.45">0.71</text>
<text x="557.0" y="1642.0" font-size="18" text-anchor="middle" fill="#8f1a14" stroke="#8f1a14" stroke-width="0.45">0.72</text>
<text x="621.2" y="1642.0" font-size="18" text-anchor="middle" fill="#7d1838" stroke="#7d1838" stroke-width="0.45">0.31</text>
<text x="108.1" y="1705.4" font-size="18" text-anchor="middle" fill="#8f1a14" stroke="#8f1a14" stroke-width="0.45">0.97</text>
<text x="172.2" y="1705.4" font-size="18" text-anchor="middle" fill="#8f1a14" stroke="#8f1a14" stroke-width="0.45">1</text>
<text x="236.3" y="1705.4" font-size="18" text-anchor="middle" fill="#8f1a14" stroke="#8f1a14" stroke-width="0.45">0.93</text>
<text x="300.5" y="1705.4" font-size="18" text-anchor="middle" fill="#8f1a14" stroke="#8f1a14" stroke-width="0.45">0.95</text>
<text x="364.6" y="1705.4" font-size="18" text-anchor="middle" fill="#8f1a14" stroke="#8f1a14" stroke-width="0.45">0.92</text>
<text x="428.8" y="1705.4" font-size="18" text-anchor="middle" fill="#8f1a14" stroke="#8f1a14" stroke-width="0.45">0.94</text>
<text x="492.9" y="1705.4" font-size="18" text-anchor="middle" fill="#8f1a14" stroke="#8f1a14" stroke-width="0.45">0.7</text>
<text x="557.0" y="1705.4" font-size="18" text-anchor="middle" fill="#8f1a14" stroke="#8f1a14" stroke-width="0.45">0.72</text>
<text x="621.2" y="1705.4" font-size="18" text-anchor="middle" fill="#7d1838" stroke="#7d1838" stroke-width="0.45">0.28</text>
<text x="108.1" y="1768.9" font-size="18" text-anchor="middle" fill="#8f1a14" stroke="#8f1a14" stroke-width="0.45">0.91</text>
<text x="172.2" y="1768.9" font-size="18" text-anchor="middle" fill="#8f1a14" stroke="#8f1a14" stroke-width="0.45">0.93</text>
<text x="236.3" y="1768.9" font-size="18" text-anchor="middle" fill="#8f1a14" stroke="#8f1a14" stroke-width="0.45">1</text>
<text x="300.5" y="1768.9" font-size="18" text-anchor="middle" fill="#8f1a14" stroke="#8f1a14" stroke-width="0.45">0.96</text>
<text x="364.6" y="1768.9" font-size="18" text-anchor="middle" fill="#8f1a14" stroke="#8f1a14" stroke-width="0.45">0.97</text>
<text x="428.8" y="1768.9" font-size="18" text-anchor="middle" fill="#8f1a14" stroke="#8f1a14" stroke-width="0.45">0.97</text>
<text x="492.9" y="1768.9" font-size="18" text-anchor="middle" fill="#8f1a14" stroke="#8f1a14" stroke-width="0.45">0.81</text>
<text x="557.0" y="1768.9" font-size="18" text-anchor="middle" fill="#8f1a14" stroke="#8f1a14" stroke-width="0.45">0.83</text>
<text x="621.2" y="1768.9" font-size="18" text-anchor="middle" fill="#7d1838" stroke="#7d1838" stroke-width="0.45">0.3</text>
<text x="108.1" y="1832.3" font-size="18" text-anchor="middle" fill="#8f1a14" stroke="#8f1a14" stroke-width="0.45">0.95</text>
<text x="172.2" y="1832.3" font-size="18" text-anchor="middle" fill="#8f1a14" stroke="#8f1a14" stroke-width="0.45">0.95</text>
<text x="236.3" y="1832.3" font-size="18" text-anchor="middle" fill="#8f1a14" stroke="#8f1a14" stroke-width="0.45">0.96</text>
<text x="300.5" y="1832.3" font-size="18" text-anchor="middle" fill="#8f1a14" stroke="#8f1a14" stroke-width="0.45">1</text>
<text x="364.6" y="1832.3" font-size="18" text-anchor="middle" fill="#8f1a14" stroke="#8f1a14" stroke-width="0.45">0.95</text>
<text x="428.8" y="1832.3" font-size="18" text-anchor="middle" fill="#8f1a14" stroke="#8f1a14" stroke-width="0.45">0.97</text>
<text x="492.9" y="1832.3" font-size="18" text-anchor="middle" fill="#8f1a14" stroke="#8f1a14" stroke-width="0.45">0.79</text>
<text x="557.0" y="1832.3" font-size="18" text-anchor="middle" fill="#8f1a14" stroke="#8f1a14" stroke-width="0.45">0.8</text>
<text x="621.2" y="1832.3" font-size="18" text-anchor="middle" fill="#7d1838" stroke="#7d1838" stroke-width="0.45">0.31</text>
<text x="108.1" y="1895.7" font-size="18" text-anchor="middle" fill="#8f1a14" stroke="#8f1a14" stroke-width="0.45">0.9</text>
<text x="172.2" y="1895.7" font-size="18" text-anchor="middle" fill="#8f1a14" stroke="#8f1a14" stroke-width="0.45">0.92</text>
<text x="236.3" y="1895.7" font-size="18" text-anchor="middle" fill="#8f1a14" stroke="#8f1a14" stroke-width="0.45">0.97</text>
<text x="300.5" y="1895.7" font-size="18" text-anchor="middle" fill="#8f1a14" stroke="#8f1a14" stroke-width="0.45">0.95</text>
<text x="364.6" y="1895.7" font-size="18" text-anchor="middle" fill="#8f1a14" stroke="#8f1a14" stroke-width="0.45">1</text>
<text x="428.8" y="1895.7" font-size="18" text-anchor="middle" fill="#8f1a14" stroke="#8f1a14" stroke-width="0.45">0.97</text>
<text x="492.9" y="1895.7" font-size="18" text-anchor="middle" fill="#8f1a14" stroke="#8f1a14" stroke-width="0.45">0.84</text>
<text x="557.0" y="1895.7" font-size="18" text-anchor="middle" fill="#8f1a14" stroke="#8f1a14" stroke-width="0.45">0.86</text>
<text x="621.2" y="1895.7" font-size="18" text-anchor="middle" fill="#7d1838" stroke="#7d1838" stroke-width="0.45">0.3</text>
<text x="108.1" y="1959.2" font-size="18" text-anchor="middle" fill="#8f1a14" stroke="#8f1a14" stroke-width="0.45">0.93</text>
<text x="172.2" y="1959.2" font-size="18" text-anchor="middle" fill="#8f1a14" stroke="#8f1a14" stroke-width="0.45">0.94</text>
<text x="236.3" y="1959.2" font-size="18" text-anchor="middle" fill="#8f1a14" stroke="#8f1a14" stroke-width="0.45">0.97</text>
<text x="300.5" y="1959.2" font-size="18" text-anchor="middle" fill="#8f1a14" stroke="#8f1a14" stroke-width="0.45">0.97</text>
<text x="364.6" y="1959.2" font-size="18" text-anchor="middle" fill="#8f1a14" stroke="#8f1a14" stroke-width="0.45">0.97</text>
<text x="428.8" y="1959.2" font-size="18" text-anchor="middle" fill="#8f1a14" stroke="#8f1a14" stroke-width="0.45">1</text>
<text x="492.9" y="1959.2" font-size="18" text-anchor="middle" fill="#8f1a14" stroke="#8f1a14" stroke-width="0.45">0.82</text>
<text x="557.0" y="1959.2" font-size="18" text-anchor="middle" fill="#8f1a14" stroke="#8f1a14" stroke-width="0.45">0.84</text>
<text x="621.2" y="1959.2" font-size="18" text-anchor="middle" fill="#7d1838" stroke="#7d1838" stroke-width="0.45">0.31</text>
<text x="108.1" y="2022.6" font-size="18" text-anchor="middle" fill="#8f1a14" stroke="#8f1a14" stroke-width="0.45">0.71</text>
<text x="172.2" y="2022.6" font-size="18" text-anchor="middle" fill="#8f1a14" stroke="#8f1a14" stroke-width="0.45">0.7</text>
<text x="236.3" y="2022.6" font-size="18" text-anchor="middle" fill="#8f1a14" stroke="#8f1a14" stroke-width="0.45">0.81</text>
<text x="300.5" y="2022.6" font-size="18" text-anchor="middle" fill="#8f1a14" stroke="#8f1a14" stroke-width="0.45">0.79</text>
<text x="364.6" y="2022.6" font-size="18" text-anchor="middle" fill="#8f1a14" stroke="#8f1a14" stroke-width="0.45">0.84</text>
<text x="428.8" y="2022.6" font-size="18" text-anchor="middle" fill="#8f1a14" stroke="#8f1a14" stroke-width="0.45">0.82</text>
<text x="492.9" y="2022.6" font-size="18" text-anchor="middle" fill="#8f1a14" stroke="#8f1a14" stroke-width="0.45">1</text>
<text x="557.0" y="2022.6" font-size="18" text-anchor="middle" fill="#8f1a14" stroke="#8f1a14" stroke-width="0.45">0.94</text>
<text x="621.2" y="2022.6" font-size="18" text-anchor="middle" fill="#7d1838" stroke="#7d1838" stroke-width="0.45">0.37</text>
<text x="108.1" y="2086.0" font-size="18" text-anchor="middle" fill="#8f1a14" stroke="#8f1a14" stroke-width="0.45">0.72</text>
<text x="172.2" y="2086.0" font-size="18" text-anchor="middle" fill="#8f1a14" stroke="#8f1a14" stroke-width="0.45">0.72</text>
<text x="236.3" y="2086.0" font-size="18" text-anchor="middle" fill="#8f1a14" stroke="#8f1a14" stroke-width="0.45">0.83</text>
<text x="300.5" y="2086.0" font-size="18" text-anchor="middle" fill="#8f1a14" stroke="#8f1a14" stroke-width="0.45">0.8</text>
<text x="364.6" y="2086.0" font-size="18" text-anchor="middle" fill="#8f1a14" stroke="#8f1a14" stroke-width="0.45">0.86</text>
<text x="428.8" y="2086.0" font-size="18" text-anchor="middle" fill="#8f1a14" stroke="#8f1a14" stroke-width="0.45">0.84</text>
<text x="492.9" y="2086.0" font-size="18" text-anchor="middle" fill="#8f1a14" stroke="#8f1a14" stroke-width="0.45">0.94</text>
<text x="557.0" y="2086.0" font-size="18" text-anchor="middle" fill="#8f1a14" stroke="#8f1a14" stroke-width="0.45">1</text>
<text x="621.2" y="2086.0" font-size="18" text-anchor="middle" fill="#7d1838" stroke="#7d1838" stroke-width="0.45">0.36</text>
<text x="108.1" y="2149.5" font-size="18" text-anchor="middle" fill="#7d1838" stroke="#7d1838" stroke-width="0.45">0.31</text>
<text x="172.2" y="2149.5" font-size="18" text-anchor="middle" fill="#7d1838" stroke="#7d1838" stroke-width="0.45">0.28</text>
<text x="236.3" y="2149.5" font-size="18" text-anchor="middle" fill="#7d1838" stroke="#7d1838" stroke-width="0.45">0.3</text>
<text x="300.5" y="2149.5" font-size="18" text-anchor="middle" fill="#7d1838" stroke="#7d1838" stroke-width="0.45">0.31</text>
<text x="364.6" y="2149.5" font-size="18" text-anchor="middle" fill="#7d1838" stroke="#7d1838" stroke-width="0.45">0.3</text>
<text x="428.8" y="2149.5" font-size="18" text-anchor="middle" fill="#7d1838" stroke="#7d1838" stroke-width="0.45">0.31</text>
<text x="492.9" y="2149.5" font-size="18" text-anchor="middle" fill="#7d1838" stroke="#7d1838" stroke-width="0.45">0.37</text>
<text x="557.0" y="2149.5" font-size="18" text-anchor="middle" fill="#7d1838" stroke="#7d1838" stroke-width="0.45">0.36</text>
<text x="621.2" y="2149.5" font-size="18" text-anchor="middle" fill="#8f1a14" stroke="#8f1a14" stroke-width="0.45">1</text>
</g>
<text x="669.0" y="1640.0" font-size="20.3" text-anchor="start" textLength="55.5" lengthAdjust="spacing" stroke="#000" stroke-width="0.55">100 ng</text>
<text x="669.0" y="1706.1" font-size="20.3" text-anchor="start" textLength="55.5" lengthAdjust="spacing" stroke="#000" stroke-width="0.55">100 ng</text>
<text x="669.0" y="1772.5" font-size="20.3" text-anchor="start" textLength="45.0" lengthAdjust="spacing" stroke="#000" stroke-width="0.55">10 ng</text>
<text x="669.0" y="1831.5" font-size="20.3" text-anchor="start" textLength="45.0" lengthAdjust="spacing" stroke="#000" stroke-width="0.55">10 ng</text>
<text x="671.2" y="1895.0" font-size="20.3" text-anchor="start" textLength="36.0" lengthAdjust="spacing" stroke="#000" stroke-width="0.55">5 ng</text>
<text x="671.2" y="1961.4" font-size="20.3" text-anchor="start" textLength="36.0" lengthAdjust="spacing" stroke="#000" stroke-width="0.55">5 ng</text>
<text x="672.6" y="2023.9" font-size="20.3" text-anchor="start" textLength="35.0" lengthAdjust="spacing" stroke="#000" stroke-width="0.55">1 ng</text>
<text x="672.6" y="2085.7" font-size="20.3" text-anchor="start" textLength="35.0" lengthAdjust="spacing" stroke="#000" stroke-width="0.55">1 ng</text>
<text x="672.0" y="2137.3" font-size="20.3" text-anchor="start" textLength="101.4" lengthAdjust="spacing" stroke="#000" stroke-width="0.55">Input control</text>
<text x="672.0" y="2161.3" font-size="20.3" text-anchor="start" textLength="69.0" lengthAdjust="spacing" stroke="#000" stroke-width="0.55">(100 ng)</text>
<text x="111.3" y="2191.5" font-size="21" text-anchor="end" transform="rotate(-90 111.3 2191.5)" textLength="56.5" lengthAdjust="spacing" stroke="#000" stroke-width="0.65">100 ng</text>
<text x="177.7" y="2191.5" font-size="21" text-anchor="end" transform="rotate(-90 177.7 2191.5)" textLength="56.0" lengthAdjust="spacing" stroke="#000" stroke-width="0.65">100 ng</text>
<text x="239.8" y="2192.5" font-size="21" text-anchor="end" transform="rotate(-90 239.8 2192.5)" textLength="45.8" lengthAdjust="spacing" stroke="#000" stroke-width="0.65">10 ng</text>
<text x="303.7" y="2193.3" font-size="21" text-anchor="end" transform="rotate(-90 303.7 2193.3)" textLength="46.3" lengthAdjust="spacing" stroke="#000" stroke-width="0.65">10 ng</text>
<text x="370.8" y="2192.5" font-size="21" text-anchor="end" transform="rotate(-90 370.8 2192.5)" textLength="35.8" lengthAdjust="spacing" stroke="#000" stroke-width="0.65">5 ng</text>
<text x="435.4" y="2189.0" font-size="21" text-anchor="end" transform="rotate(-90 435.4 2189.0)" textLength="36.5" lengthAdjust="spacing" stroke="#000" stroke-width="0.65">5 ng</text>
<text x="502.6" y="2190.8" font-size="21" text-anchor="end" transform="rotate(-90 502.6 2190.8)" textLength="36.3" lengthAdjust="spacing" stroke="#000" stroke-width="0.65">1 ng</text>
<text x="563.6" y="2187.9" font-size="21" text-anchor="end" transform="rotate(-90 563.6 2187.9)" textLength="36.5" lengthAdjust="spacing" stroke="#000" stroke-width="0.65">1 ng</text>
<text x="616.6" y="2187.9" font-size="21" text-anchor="end" transform="rotate(-90 616.6 2187.9)" textLength="102.9" lengthAdjust="spacing" stroke="#000" stroke-width="0.65">Input control</text>
<text x="640.7" y="2220.2" font-size="21" text-anchor="end" transform="rotate(-90 640.7 2220.2)" textLength="70.5" lengthAdjust="spacing" stroke="#000" stroke-width="0.65">(100 ng)</text>
</g>
<g id="panel-e">
<clipPath id="ce"><rect x="971" y="1661" width="1115" height="492"/></clipPath>
<g clip-path="url(#ce)">
<path d="M971.3 1699.9H2085.5" stroke="#c4c4c8" stroke-width="1"/>
<path d="M971.3 1699.5V1680.4H984.8V1684.2H1000.7V1680.4H1016.7V1699.5ZM1032.6 1699.5V1698.5H1048.5V1689.9H1064.5V1691.0H1080.4V1681.2H1096.4V1685.3H1112.3V1684.5H1128.2V1681.2H1144.2V1678.5H1160.1V1681.2H1176.0V1680.4H1192.0V1688.6H1207.9V1699.5ZM1255.7 1699.5V1688.1H1271.7V1684.5H1287.6V1698.4H1303.5V1695.6H1319.5V1699.5ZM1351.3 1699.5V1681.2H1367.3V1679.3H1383.2V1683.3H1399.2V1692.6H1415.1V1690.7H1431.0V1684.5H1447.0V1684.5H1462.9V1682.9H1478.8V1682.0H1494.8V1680.7H1510.7V1680.7H1526.7V1685.8H1542.6V1690.2H1558.5V1689.1H1574.5V1688.1H1590.4V1678.3H1606.3V1679.6H1622.3V1689.9H1638.2V1699.5ZM1654.2 1699.5V1688.6H1670.1V1686.6H1686.0V1685.8H1702.0V1687.8H1717.9V1691.0H1733.8V1691.8H1749.8V1688.6H1765.7V1693.0H1781.6V1687.4H1797.6V1682.9H1813.5V1690.2H1829.5V1689.4H1845.4V1686.1H1861.3V1684.0H1877.3V1685.0H1893.2V1682.9H1909.1V1675.5H1925.1V1679.3H1941.0V1689.1H1957.0V1680.4H1972.9V1678.0H1988.8V1697.2H2004.8V1699.5ZM2020.7 1699.5V1694.6H2036.6V1682.5H2052.6V1679.1H2068.5V1686.6H2084.4V1699.5Z" fill="#2e9256"/>
<path d="M971.3 1737.6H2085.5" stroke="#c4c4c8" stroke-width="1"/>
<path d="M971.3 1737.2V1715.6H984.8V1721.3H1000.7V1719.4H1016.7V1737.2ZM1032.6 1737.2V1735.2H1048.5V1728.7H1064.5V1730.6H1080.4V1723.5H1096.4V1725.8H1112.3V1721.3H1128.2V1719.2H1144.2V1716.8H1160.1V1718.9H1176.0V1721.3H1192.0V1732.8H1207.9V1737.2ZM1255.7 1737.2V1722.2H1271.7V1718.1H1287.6V1731.5H1303.5V1733.1H1319.5V1737.2ZM1351.3 1737.2V1716.0H1367.3V1712.9H1383.2V1716.1H1399.2V1724.1H1415.1V1724.1H1431.0V1716.9H1447.0V1717.3H1462.9V1716.5H1478.8V1714.8H1494.8V1713.7H1510.7V1716.1H1526.7V1719.7H1542.6V1724.9H1558.5V1727.1H1574.5V1718.9H1590.4V1711.9H1606.3V1712.9H1622.3V1724.1H1638.2V1737.2ZM1654.2 1737.2V1724.6H1670.1V1724.3H1686.0V1720.5H1702.0V1723.0H1717.9V1733.3H1733.8V1726.2H1749.8V1724.3H1765.7V1731.9H1781.6V1720.5H1797.6V1716.5H1813.5V1722.7H1829.5V1722.7H1845.4V1719.7H1861.3V1717.6H1877.3V1716.8H1893.2V1716.5H1909.1V1710.4H1925.1V1714.8H1941.0V1725.4H1957.0V1715.3H1972.9V1712.9H1988.8V1733.1H2004.8V1737.2ZM2020.7 1737.2V1730.3H2036.6V1720.0H2052.6V1716.5H2068.5V1722.5H2084.4V1737.2Z" fill="#2e9256"/>
<path d="M971.3 1775.2H2085.5" stroke="#c4c4c8" stroke-width="1"/>
<path d="M971.3 1774.8V1749.6H984.8V1762.9H1000.7V1762.1H1016.7V1774.8ZM1032.6 1774.8V1767.0H1048.5V1764.6H1064.5V1774.8ZM1080.4 1774.8V1762.9H1096.4V1764.1H1112.3V1758.5H1128.2V1755.6H1144.2V1750.2H1160.1V1757.5H1176.0V1757.5H1192.0V1765.1H1207.9V1774.8ZM1255.7 1774.8V1755.6H1271.7V1752.3H1287.6V1767.0H1303.5V1774.8ZM1351.3 1774.8V1754.0H1367.3V1749.4H1383.2V1752.3H1399.2V1764.1H1415.1V1758.5H1431.0V1751.5H1447.0V1750.7H1462.9V1747.1H1478.8V1747.4H1494.8V1746.1H1510.7V1748.2H1526.7V1755.1H1542.6V1761.0H1558.5V1765.1H1574.5V1753.1H1590.4V1744.5H1606.3V1747.9H1622.3V1759.3H1638.2V1774.8ZM1654.2 1774.8V1769.5H1670.1V1771.9H1686.0V1757.2H1702.0V1757.2H1717.9V1767.8H1733.8V1762.4H1749.8V1758.5H1765.7V1767.8H1781.6V1757.2H1797.6V1753.6H1813.5V1762.9H1829.5V1759.3H1845.4V1756.7H1861.3V1755.6H1877.3V1754.0H1893.2V1751.5H1909.1V1745.0H1925.1V1749.9H1941.0V1767.8H1957.0V1751.5H1972.9V1749.6H1988.8V1773.9H2004.8V1774.8ZM2020.7 1774.8V1771.4H2036.6V1759.2H2052.6V1755.6H2068.5V1762.9H2084.4V1774.8Z" fill="#2e9256"/>
<path d="M971.3 1812.9H2085.5" stroke="#c4c4c8" stroke-width="1"/>
<path d="M971.3 1812.5V1791.1H984.8V1796.2H1000.7V1797.0H1016.7V1812.5ZM1032.6 1812.5V1810.4H1048.5V1805.0H1064.5V1807.1H1080.4V1799.5H1096.4V1803.0H1112.3V1797.0H1128.2V1792.1H1144.2V1789.5H1160.1V1795.4H1176.0V1794.6H1192.0V1802.7H1207.9V1812.5ZM1255.7 1812.5V1796.0H1271.7V1792.4H1287.6V1805.2H1303.5V1808.4H1319.5V1812.5ZM1351.3 1812.5V1793.7H1367.3V1790.3H1383.2V1794.1H1399.2V1800.3H1415.1V1799.5H1431.0V1791.6H1447.0V1790.5H1462.9V1789.7H1478.8V1789.7H1494.8V1788.7H1510.7V1791.3H1526.7V1794.1H1542.6V1798.6H1558.5V1802.2H1574.5V1793.6H1590.4V1786.7H1606.3V1789.7H1622.3V1800.9H1638.2V1812.5ZM1654.2 1812.5V1803.9H1670.1V1803.0H1686.0V1799.5H1702.0V1800.6H1717.9V1807.6H1733.8V1802.2H1749.8V1800.9H1765.7V1811.2H1781.6V1795.7H1797.6V1792.4H1813.5V1800.9H1829.5V1804.4H1845.4V1799.3H1861.3V1794.4H1877.3V1797.0H1893.2V1794.9H1909.1V1787.1H1925.1V1791.3H1941.0V1802.2H1957.0V1792.0H1972.9V1789.2H1988.8V1810.1H2004.8V1812.5ZM2020.7 1812.5V1811.2H2036.6V1796.8H2052.6V1791.3H2068.5V1798.6H2084.4V1812.5Z" fill="#2e9256"/>
<path d="M971.3 1850.6H2085.5" stroke="#c4c4c8" stroke-width="1"/>
<path d="M971.3 1850.2V1824.1H984.8V1836.3H1000.7V1836.3H1016.7V1850.2ZM1048.5 1850.2V1848.2H1064.5V1846.6H1080.4V1834.4H1096.4V1836.3H1112.3V1832.7H1128.2V1829.0H1144.2V1825.4H1160.1V1829.8H1176.0V1831.1H1192.0V1844.8H1207.9V1850.2ZM1255.7 1850.2V1831.4H1271.7V1826.5H1287.6V1846.4H1303.5V1850.2ZM1351.3 1850.2V1828.6H1367.3V1823.8H1383.2V1827.7H1399.2V1836.6H1415.1V1834.4H1431.0V1826.5H1447.0V1828.2H1462.9V1824.1H1478.8V1823.3H1494.8V1822.1H1510.7V1824.1H1526.7V1829.3H1542.6V1833.1H1558.5V1837.1H1574.5V1827.3H1590.4V1819.5H1606.3V1823.6H1622.3V1835.8H1638.2V1850.2ZM1654.2 1850.2V1844.0H1670.1V1844.0H1686.0V1832.2H1702.0V1832.7H1717.9V1845.8H1733.8V1840.4H1749.8V1836.3H1765.7V1842.0H1781.6V1830.3H1797.6V1828.6H1813.5V1838.4H1829.5V1833.1H1845.4V1831.4H1861.3V1830.9H1877.3V1830.9H1893.2V1828.2H1909.1V1822.4H1925.1V1826.0H1941.0V1839.6H1957.0V1826.9H1972.9V1823.8H1988.8V1846.4H2004.8V1850.2ZM2020.7 1850.2V1843.2H2036.6V1834.4H2052.6V1831.4H2068.5V1835.5H2084.4V1850.2Z" fill="#2e9256"/>
<path d="M971.3 1888.2H2085.5" stroke="#c4c4c8" stroke-width="1"/>
<path d="M971.3 1887.8V1864.7H984.8V1872.8H1000.7V1872.0H1016.7V1887.8ZM1032.6 1887.8V1882.1H1048.5V1878.9H1064.5V1883.0H1080.4V1874.0H1096.4V1874.8H1112.3V1871.5H1128.2V1868.6H1144.2V1863.4H1160.1V1869.1H1176.0V1871.2H1192.0V1880.0H1207.9V1887.8ZM1255.7 1887.8V1870.7H1271.7V1868.6H1287.6V1885.9H1303.5V1887.8ZM1351.3 1887.8V1867.8H1367.3V1865.3H1383.2V1867.9H1399.2V1874.5H1415.1V1872.4H1431.0V1868.3H1447.0V1867.5H1462.9V1864.2H1478.8V1864.2H1494.8V1862.9H1510.7V1864.2H1526.7V1871.5H1542.6V1878.6H1558.5V1874.8H1574.5V1870.2H1590.4V1861.3H1606.3V1864.7H1622.3V1877.2H1638.2V1887.8ZM1654.2 1887.8V1882.1H1670.1V1880.0H1686.0V1872.8H1702.0V1872.8H1717.9V1887.8ZM1733.8 1887.8V1876.8H1749.8V1874.0H1765.7V1881.3H1781.6V1871.0H1797.6V1867.5H1813.5V1874.0H1829.5V1874.8H1845.4V1871.9H1861.3V1869.6H1877.3V1870.4H1893.2V1868.3H1909.1V1861.4H1925.1V1864.2H1941.0V1875.6H1957.0V1865.8H1972.9V1863.1H1988.8V1887.8ZM2020.7 1887.8V1883.8H2036.6V1871.2H2052.6V1866.3H2068.5V1873.2H2084.4V1887.8Z" fill="#2e9256"/>
<path d="M971.3 1925.9H2085.5" stroke="#c4c4c8" stroke-width="1"/>
<path d="M971.3 1925.5V1908.1H984.8V1917.4H1000.7V1913.0H1016.7V1925.5ZM1032.6 1925.5V1923.6H1048.5V1914.9H1064.5V1919.5H1080.4V1914.6H1096.4V1919.5H1112.3V1910.2H1128.2V1910.2H1144.2V1900.7H1160.1V1912.1H1176.0V1913.0H1192.0V1923.9H1207.9V1925.5ZM1223.9 1925.5V1923.9H1239.8V1923.9H1255.7V1908.9H1271.7V1905.3H1287.6V1919.5H1303.5V1925.5ZM1335.4 1925.5V1920.0H1351.3V1906.8H1367.3V1903.5H1383.2V1905.6H1399.2V1913.4H1415.1V1910.8H1431.0V1910.8H1447.0V1908.4H1462.9V1904.0H1478.8V1907.7H1494.8V1906.4H1510.7V1910.2H1526.7V1912.1H1542.6V1923.6H1558.5V1923.6H1574.5V1913.4H1590.4V1903.2H1606.3V1910.8H1622.3V1919.8H1638.2V1925.5ZM1654.2 1925.5V1923.2H1670.1V1925.5ZM1686.0 1925.5V1912.1H1702.0V1912.1H1717.9V1925.5ZM1749.8 1925.5V1920.0H1765.7V1917.0H1781.6V1925.5ZM1797.6 1925.5V1917.0H1813.5V1923.6H1829.5V1919.8H1845.4V1923.2H1861.3V1920.0H1877.3V1915.1H1893.2V1912.1H1909.1V1903.2H1925.1V1908.1H1941.0V1914.9H1957.0V1908.9H1972.9V1908.1H1988.8V1925.5ZM2036.6 1925.5V1920.0H2052.6V1915.4H2068.5V1913.0H2084.4V1925.5Z" fill="#2e9256"/>
<path d="M971.3 1963.2V1940.7H984.8V1957.5H1000.7V1957.5H1016.7V1963.2ZM1032.6 1963.2V1957.5H1048.5V1957.5H1064.5V1957.0H1080.4V1948.8H1096.4V1954.5H1112.3V1947.5H1128.2V1943.5H1144.2V1935.3H1160.1V1945.2H1176.0V1946.1H1192.0V1957.0H1207.9V1963.2ZM1255.7 1963.2V1949.7H1271.7V1951.6H1287.6V1963.2ZM1303.5 1963.2V1952.9H1319.5V1961.1H1335.4V1963.2ZM1351.3 1963.2V1943.5H1367.3V1938.2H1383.2V1940.7H1399.2V1951.3H1415.1V1954.5H1431.0V1945.1H1447.0V1940.4H1462.9V1939.5H1478.8V1944.4H1494.8V1939.5H1510.7V1940.7H1526.7V1945.6H1542.6V1953.2H1558.5V1963.2ZM1574.5 1963.2V1950.1H1590.4V1940.2H1606.3V1942.8H1622.3V1953.2H1638.2V1963.2ZM1654.2 1963.2V1955.0H1670.1V1952.9H1686.0V1944.4H1702.0V1947.5H1717.9V1963.2ZM1733.8 1963.2V1953.2H1749.8V1957.3H1765.7V1963.2ZM1781.6 1963.2V1955.0H1797.6V1945.6H1813.5V1954.9H1829.5V1954.9H1845.4V1948.0H1861.3V1943.1H1877.3V1944.8H1893.2V1946.1H1909.1V1936.1H1925.1V1940.4H1941.0V1953.2H1957.0V1945.6H1972.9V1945.6H1988.8V1963.2ZM2020.7 1963.2V1957.8H2036.6V1951.6H2052.6V1946.4H2068.5V1947.5H2084.4V1963.2Z" fill="#2e9256"/>
<rect x="971.3" y="1962.6" width="1114.2" height="75.2" fill="#cdcdcd"/>
<rect x="1985.9" y="1962.6" width="53.5" height="75.2" fill="#d6d6ea"/>
<rect x="1001.1" y="2000.4" width="5.7" height="37.4" fill="#ffff1a"/>
<rect x="1274.1" y="1962.6" width="7.3" height="37.8" fill="#3f5f7a"/>
<rect x="1290.1" y="1962.6" width="6.0" height="37.8" fill="#5c7e3c"/>
<rect x="1306.4" y="1962.6" width="2.0" height="37.8" fill="#4a6484"/>
<rect x="1308.4" y="1962.6" width="6.0" height="37.8" fill="#5d7d3d"/>
<rect x="1355.7" y="1962.6" width="4.9" height="37.8" fill="#ffff1a"/>
<rect x="1360.6" y="1962.6" width="3.6" height="37.8" fill="#a4b424"/>
<rect x="1372.8" y="1962.6" width="7.0" height="37.8" fill="#ffff1a"/>
<rect x="1395.6" y="1962.6" width="11.4" height="37.8" fill="#ffff1a"/>
<rect x="1414.4" y="1962.6" width="5.7" height="37.8" fill="#ffff1a"/>
<rect x="1433.5" y="1962.6" width="3.4" height="37.8" fill="#0808e0"/>
<rect x="1472.3" y="1962.6" width="7.3" height="37.8" fill="#ffff1a"/>
<rect x="1479.6" y="1962.6" width="3.3" height="37.8" fill="#5f7f3c"/>
<rect x="1496.8" y="1962.6" width="8.2" height="37.8" fill="#ffff1a"/>
<rect x="1513.1" y="1962.6" width="9.8" height="37.8" fill="#ffff1a"/>
<rect x="1528.6" y="1962.6" width="1.3" height="37.8" fill="#ffff1a"/>
<rect x="1529.9" y="1962.6" width="1.6" height="37.8" fill="#c8d020"/>
<rect x="1531.5" y="1962.6" width="10.9" height="37.8" fill="#ffff1a"/>
<rect x="1274.1" y="2000.4" width="7.3" height="37.4" fill="#90a820"/>
<rect x="1290.1" y="2000.4" width="2.3" height="37.4" fill="#3c5a8c"/>
<rect x="1292.4" y="2000.4" width="3.8" height="37.4" fill="#a0b422"/>
<rect x="1306.4" y="2000.4" width="2.0" height="37.4" fill="#4a6484"/>
<rect x="1308.4" y="2000.4" width="6.0" height="37.4" fill="#9cb020"/>
<rect x="1324.7" y="2000.4" width="4.1" height="37.4" fill="#0808e8"/>
<rect x="1354.9" y="2000.4" width="9.8" height="37.4" fill="#ffff1a"/>
<rect x="1372.8" y="2000.4" width="13.1" height="37.4" fill="#ffff1a"/>
<rect x="1389.6" y="2000.4" width="17.5" height="37.4" fill="#ffff1a"/>
<rect x="1409.5" y="2000.4" width="13.9" height="37.4" fill="#ffff1a"/>
<rect x="1471.5" y="2000.4" width="2.4" height="37.4" fill="#c8d020"/>
<rect x="1473.9" y="2000.4" width="9.8" height="37.4" fill="#ffff1a"/>
<rect x="1496.8" y="2000.4" width="13.1" height="37.4" fill="#ffff1a"/>
<rect x="1513.1" y="2000.4" width="20.4" height="37.4" fill="#ffff1a"/>
<rect x="1535.1" y="2000.4" width="7.3" height="37.4" fill="#ffff1a"/>
<rect x="1554.1" y="1962.6" width="5.7" height="37.8" fill="#ffff1a"/>
<rect x="1559.8" y="1962.6" width="3.3" height="37.8" fill="#3d8a2c"/>
<rect x="1700.1" y="1962.6" width="4.1" height="37.8" fill="#ffff1a"/>
<rect x="1779.2" y="1962.6" width="12.2" height="37.8" fill="#ffff1a"/>
<rect x="1807.0" y="1962.6" width="4.1" height="37.8" fill="#ffff1a"/>
<rect x="1824.9" y="1962.6" width="4.1" height="37.8" fill="#ffff1a"/>
<rect x="1528.0" y="2000.4" width="14.7" height="37.4" fill="#ffff1a"/>
<rect x="1554.1" y="2000.4" width="9.8" height="37.4" fill="#ffff1a"/>
<rect x="1695.2" y="2000.4" width="9.0" height="37.4" fill="#ffff1a"/>
<rect x="1750.2" y="2000.4" width="5.4" height="37.4" fill="#ffff1a"/>
<rect x="1779.2" y="2000.4" width="19.6" height="37.4" fill="#ffff1a"/>
<rect x="1824.9" y="2000.4" width="16.3" height="37.4" fill="#ffff1a"/>
<rect x="1806.5" y="1962.6" width="4.9" height="37.8" fill="#ffff1a"/>
<rect x="1824.4" y="1962.6" width="9.3" height="37.8" fill="#ffff1a"/>
<rect x="1841.9" y="1962.6" width="7.5" height="37.8" fill="#ffff1a"/>
<rect x="1904.1" y="1962.6" width="9.0" height="37.8" fill="#ffff1a"/>
<rect x="1920.7" y="1962.6" width="5.7" height="37.8" fill="#e4ea20"/>
<rect x="1929.7" y="1962.6" width="6.5" height="37.8" fill="#ffff1a"/>
<rect x="1981.5" y="1962.6" width="4.4" height="37.8" fill="#0a0ae0"/>
<rect x="1989.2" y="1962.6" width="6.0" height="37.8" fill="#0a0ae0"/>
<rect x="1999.8" y="1962.6" width="27.2" height="37.8" fill="#0000f0"/>
<rect x="2033.6" y="1962.6" width="5.9" height="37.8" fill="#0000b8"/>
<rect x="2046.3" y="1962.6" width="6.2" height="37.8" fill="#ffff1a"/>
<rect x="1824.4" y="2000.4" width="9.3" height="37.4" fill="#ffff1a"/>
<rect x="1841.9" y="2000.4" width="12.4" height="37.4" fill="#ffff1a"/>
<rect x="1904.1" y="2000.4" width="9.0" height="37.4" fill="#ffff1a"/>
<rect x="1919.9" y="2000.4" width="6.5" height="37.4" fill="#dce424"/>
<rect x="1929.7" y="2000.4" width="6.5" height="37.4" fill="#a2ba22"/>
<rect x="1989.2" y="2000.4" width="6.0" height="37.4" fill="#0a0ae0"/>
<rect x="1999.8" y="2000.4" width="27.2" height="37.4" fill="#0000e8"/>
<rect x="2033.6" y="2000.4" width="5.9" height="37.4" fill="#0000b8"/>
<rect x="2040.6" y="2000.4" width="13.9" height="37.4" fill="#e0e622"/>
<path d="M979.0 2075.8v-25.5H981.4V2075.8ZM986.6 2075.8v-25.5H989.3V2075.8ZM990.1 2075.8v-9.6H991.6V2075.8ZM1000.0 2075.8v-25.5H1001.8V2075.8ZM1011.1 2075.8v-16.0H1012.9V2075.8ZM1027.8 2075.8v-16.0H1029.7V2075.8ZM1031.2 2075.8v-31.9H1032.7V2075.8ZM1046.1 2075.8v-31.9H1047.6V2075.8ZM1047.6 2075.8v-23.9H1050.2V2075.8ZM1059.4 2075.8v-27.8H1061.2V2075.8ZM1062.1 2075.8v-19.1H1064.7V2075.8ZM1098.6 2075.8v-31.9H1103.2V2075.8ZM1114.9 2075.8v-31.9H1116.4V2075.8ZM1154.1 2075.8v-19.1H1159.8V2075.8ZM1167.5 2075.8v-9.6H1169.7V2075.8ZM1177.3 2075.8v-16.0H1179.6V2075.8ZM1181.2 2075.8v-19.1H1183.0V2075.8ZM1193.0 2075.8v-22.3H1195.6V2075.8ZM1248.5 2075.8v-16.0H1249.8V2075.8ZM1255.3 2075.8v-22.3H1256.8V2075.8ZM1260.2 2075.8v-31.9H1262.0V2075.8ZM1262.5 2075.8v-25.5H1264.0V2075.8ZM1266.0 2075.8v-25.5H1267.5V2075.8ZM1293.7 2075.8v-25.5H1295.5V2075.8ZM1298.2 2075.8v-23.9H1300.1V2075.8ZM1310.7 2075.8v-31.9H1312.7V2075.8ZM1314.2 2075.8v-25.5H1316.5V2075.8ZM1317.3 2075.8v-23.9H1318.8V2075.8ZM1369.8 2075.8v-31.9H1371.0V2075.8ZM1534.9 2075.8v-31.9H1537.4V2075.8ZM1569.9 2075.8v-31.9H1572.2V2075.8ZM1626.2 2075.8v-31.9H1627.7V2075.8ZM1678.0 2075.8v-31.9H1678.7V2075.8ZM1689.4 2075.8v-31.9H1693.2V2075.8ZM1703.1 2075.8v-31.9H1706.9V2075.8ZM1709.9 2075.8v-31.9H1711.5V2075.8ZM1716.8 2075.8v-31.9H1724.4V2075.8ZM1794.4 2075.8v-31.9H1796.7V2075.8ZM1823.2 2075.8v-31.9H1825.1V2075.8ZM1849.9 2075.8v-25.5H1853.7V2075.8ZM1929.0 2075.8v-31.9H1933.2V2075.8ZM2034.1 2075.8v-16.0H2035.6V2075.8ZM2067.6 2075.8v-28.7H2069.1V2075.8Z" fill="#707070"/>
<path d="M971.8 2075.8v-31.9H976.4V2075.8ZM976.4 2075.8v-20.7H977.4V2075.8ZM982.9 2075.8v-27.1H985.1V2075.8ZM985.1 2075.8v-31.9H986.6V2075.8ZM994.6 2075.8v-14.4H996.9V2075.8ZM996.6 2075.8v-31.9H1000.0V2075.8ZM1002.7 2075.8v-31.9H1009.4V2075.8ZM1014.9 2075.8v-31.9H1016.7V2075.8ZM1020.1 2075.8v-31.9H1021.6V2075.8ZM1035.0 2075.8v-31.9H1036.5V2075.8ZM1039.9 2075.8v-31.9H1042.9V2075.8ZM1051.0 2075.8v-31.9H1055.5V2075.8ZM1055.5 2075.8v-20.7H1056.6V2075.8ZM1064.7 2075.8v-31.9H1068.8V2075.8ZM1072.0 2075.8v-16.0H1073.5V2075.8ZM1077.6 2075.8v-31.9H1079.1V2075.8ZM1081.9 2075.8v-28.7H1083.7V2075.8ZM1088.6 2075.8v-31.9H1090.1V2075.8ZM1093.2 2075.8v-31.9H1096.7V2075.8ZM1096.7 2075.8v-17.5H1098.6V2075.8ZM1098.6 2075.8v-23.9H1103.2V2075.8ZM1107.3 2075.8v-31.9H1109.9V2075.8ZM1118.0 2075.8v-31.9H1124.8V2075.8ZM1124.8 2075.8v-16.0H1126.3V2075.8ZM1127.1 2075.8v-23.9H1128.6V2075.8ZM1131.7 2075.8v-19.1H1133.2V2075.8ZM1135.0 2075.8v-31.9H1136.5V2075.8ZM1144.6 2075.8v-31.9H1149.2V2075.8ZM1150.7 2075.8v-23.9H1152.5V2075.8ZM1154.5 2075.8v-31.9H1155.7V2075.8ZM1158.3 2075.8v-23.9H1159.8V2075.8ZM1163.3 2075.8v-27.1H1165.6V2075.8ZM1165.2 2075.8v-12.8H1167.5V2075.8ZM1170.2 2075.8v-25.5H1171.7V2075.8ZM1173.8 2075.8v-31.9H1177.3V2075.8ZM1183.0 2075.8v-31.9H1185.0V2075.8ZM1188.8 2075.8v-31.9H1191.8V2075.8ZM1195.6 2075.8v-31.9H1200.2V2075.8ZM1200.2 2075.8v-27.1H1203.2V2075.8ZM1203.2 2075.8v-19.1H1204.8V2075.8ZM1207.0 2075.8v-17.5H1208.6V2075.8ZM1212.4 2075.8v-31.9H1213.9V2075.8ZM1216.2 2075.8v-25.5H1217.7V2075.8ZM1223.5 2075.8v-31.9H1225.0V2075.8ZM1229.1 2075.8v-23.9H1230.6V2075.8ZM1236.0 2075.8v-6.4H1237.8V2075.8ZM1243.6 2075.8v-25.5H1245.4V2075.8ZM1250.7 2075.8v-3.2H1252.3V2075.8ZM1260.2 2075.8v-16.0H1262.0V2075.8ZM1270.1 2075.8v-31.9H1286.8V2075.8ZM1286.8 2075.8v-11.2H1288.3V2075.8ZM1288.3 2075.8v-31.9H1293.7V2075.8ZM1295.5 2075.8v-31.9H1298.2V2075.8ZM1303.1 2075.8v-20.7H1305.1V2075.8ZM1305.1 2075.8v-16.0H1306.6V2075.8ZM1308.9 2075.8v-31.9H1310.7V2075.8ZM1326.1 2075.8v-31.9H1327.6V2075.8ZM1333.0 2075.8v-31.9H1334.5V2075.8ZM1340.6 2075.8v-27.1H1342.4V2075.8ZM1342.4 2075.8v-31.9H1343.9V2075.8ZM1353.1 2075.8v-31.9H1354.6V2075.8ZM1355.3 2075.8v-31.9H1361.4V2075.8ZM1361.4 2075.8v-27.1H1363.7V2075.8ZM1366.0 2075.8v-31.9H1369.0V2075.8ZM1371.6 2075.8v-31.9H1528.9V2075.8ZM1528.0 2075.8v-31.9H1533.8V2075.8ZM1537.4 2075.8v-31.9H1569.9V2075.8ZM1572.2 2075.8v-31.9H1575.5V2075.8ZM1578.5 2075.8v-31.9H1613.3V2075.8ZM1614.5 2075.8v-31.9H1616.3V2075.8ZM1617.1 2075.8v-31.9H1618.1V2075.8ZM1619.0 2075.8v-31.9H1620.6V2075.8ZM1622.1 2075.8v-31.9H1626.2V2075.8ZM1632.0 2075.8v-24.9H1633.5V2075.8ZM1645.2 2075.8v-31.9H1647.1V2075.8ZM1657.4 2075.8v-31.9H1658.9V2075.8ZM1663.2 2075.8v-31.9H1666.9V2075.8ZM1671.1 2075.8v-31.9H1672.3V2075.8ZM1674.9 2075.8v-28.7H1678.0V2075.8ZM1680.3 2075.8v-31.9H1681.5V2075.8ZM1684.1 2075.8v-31.9H1685.6V2075.8ZM1694.7 2075.8v-31.9H1703.1V2075.8ZM1703.1 2075.8v-23.9H1706.9V2075.8ZM1712.2 2075.8v-31.9H1713.7V2075.8ZM1729.0 2075.8v-31.9H1731.7V2075.8ZM1734.3 2075.8v-31.9H1735.8V2075.8ZM1738.1 2075.8v-23.9H1739.6V2075.8ZM1746.9 2075.8v-31.9H1749.1V2075.8ZM1751.8 2075.8v-31.9H1755.6V2075.8ZM1757.9 2075.8v-31.9H1759.4V2075.8ZM1764.0 2075.8v-29.3H1767.8V2075.8ZM1770.8 2075.8v-31.9H1774.3V2075.8ZM1779.2 2075.8v-31.9H1783.8V2075.8ZM1786.1 2075.8v-31.9H1794.4V2075.8ZM1796.7 2075.8v-31.9H1803.6V2075.8ZM1804.3 2075.8v-31.9H1805.9V2075.8ZM1808.8 2075.8v-31.9H1814.9V2075.8ZM1818.4 2075.8v-29.3H1822.5V2075.8ZM1826.0 2075.8v-31.9H1828.1V2075.8ZM1829.0 2075.8v-31.9H1832.4V2075.8ZM1841.2 2075.8v-31.9H1849.9V2075.8ZM1853.7 2075.8v-31.9H1856.4V2075.8ZM1861.0 2075.8v-28.7H1866.6V2075.8ZM1867.7 2075.8v-31.9H1868.9V2075.8ZM1870.1 2075.8v-31.9H1871.6V2075.8ZM1873.2 2075.8v-31.9H1880.3V2075.8ZM1882.9 2075.8v-31.9H1885.6V2075.8ZM1888.4 2075.8v-28.7H1895.1V2075.8ZM1899.4 2075.8v-31.9H1908.5V2075.8ZM1909.2 2075.8v-31.9H1917.6V2075.8ZM1919.1 2075.8v-31.9H1929.0V2075.8ZM1934.4 2075.8v-31.9H1935.9V2075.8ZM1940.5 2075.8v-31.9H1943.2V2075.8ZM1945.8 2075.8v-31.9H1947.3V2075.8ZM1948.1 2075.8v-25.5H1951.9V2075.8ZM1958.0 2075.8v-31.9H1974.0V2075.8ZM1975.2 2075.8v-31.9H1980.4V2075.8ZM1983.1 2075.8v-22.3H1986.9V2075.8ZM1986.4 2075.8v-31.9H1988.0V2075.8ZM1988.4 2075.8v-19.1H1990.7V2075.8ZM1991.5 2075.8v-17.5H1994.5V2075.8ZM1993.7 2075.8v-31.9H1996.8V2075.8ZM1996.8 2075.8v-27.1H1998.3V2075.8ZM2031.1 2075.8v-23.9H2033.3V2075.8ZM2032.1 2075.8v-31.9H2033.3V2075.8ZM2036.1 2075.8v-14.4H2038.7V2075.8ZM2039.7 2075.8v-31.9H2041.3V2075.8ZM2042.5 2075.8v-31.9H2044.8V2075.8ZM2048.6 2075.8v-31.9H2051.6V2075.8ZM2051.6 2075.8v-27.1H2057.7V2075.8ZM2057.7 2075.8v-31.9H2059.2V2075.8ZM2063.0 2075.8v-31.9H2066.8V2075.8ZM2069.9 2075.8v-31.9H2074.4V2075.8ZM2077.2 2075.8v-31.9H2079.3V2075.8ZM2080.5 2075.8v-31.9H2085.1V2075.8Z" fill="#1c1c1c"/>
<rect x="1270.8" y="2043.9" width="0.6" height="31.9" fill="#888"/>
<rect x="1272.8" y="2043.9" width="0.6" height="31.9" fill="#888"/>
<rect x="1283.0" y="2043.9" width="0.6" height="31.9" fill="#777"/>
<rect x="1289.9" y="2043.9" width="0.6" height="31.9" fill="#888"/>
<rect x="1292.2" y="2043.9" width="0.6" height="31.9" fill="#999"/>
<rect x="1374.4" y="2043.9" width="0.8" height="31.9" fill="#999"/>
<rect x="1387.3" y="2043.9" width="0.8" height="31.9" fill="#999"/>
<rect x="1392.9" y="2043.9" width="1.2" height="6.4" fill="#fff"/>
<rect x="1396.4" y="2043.9" width="0.8" height="31.9" fill="#ddd"/>
<rect x="1400.3" y="2043.9" width="0.6" height="31.9" fill="#888"/>
<rect x="1406.6" y="2043.9" width="0.9" height="31.9" fill="#ddd"/>
<rect x="1421.3" y="2043.9" width="1.8" height="3.2" fill="#fff"/>
<rect x="1428.0" y="2043.9" width="1.5" height="8.0" fill="#fff"/>
<rect x="1456.3" y="2043.9" width="0.8" height="31.9" fill="#888"/>
<rect x="1459.3" y="2043.9" width="1.5" height="31.9" fill="#666"/>
<rect x="1462.7" y="2043.9" width="0.6" height="31.9" fill="#999"/>
<rect x="1468.0" y="2043.9" width="2.1" height="6.4" fill="#fff"/>
<rect x="1473.3" y="2043.9" width="0.6" height="31.9" fill="#888"/>
<rect x="1480.2" y="2043.9" width="0.6" height="31.9" fill="#999"/>
<rect x="1483.7" y="2043.9" width="1.8" height="6.4" fill="#fff"/>
<rect x="1487.8" y="2043.9" width="0.8" height="31.9" fill="#ddd"/>
<rect x="1491.6" y="2043.9" width="0.6" height="31.9" fill="#888"/>
<rect x="1497.7" y="2043.9" width="0.8" height="31.9" fill="#eee"/>
<rect x="1510.5" y="2043.9" width="0.9" height="31.9" fill="#eee"/>
<rect x="1528.8" y="2043.9" width="1.1" height="16.0" fill="#aaa"/>
<rect x="1564.1" y="2043.9" width="1.2" height="4.8" fill="#ccc"/>
<rect x="1582.4" y="2043.9" width="1.2" height="22.3" fill="#999"/>
<rect x="1593.5" y="2043.9" width="0.9" height="3.8" fill="#ccc"/>
<rect x="1605.2" y="2043.9" width="1.2" height="9.6" fill="#bbb"/>
<rect x="1609.0" y="2043.9" width="3.3" height="8.0" fill="#777"/>
<rect x="1664.3" y="2043.9" width="1.5" height="6.4" fill="#fff"/>
<rect x="1771.6" y="2043.9" width="1.2" height="4.8" fill="#fff"/>
<rect x="1810.7" y="2043.9" width="0.5" height="31.9" fill="#eee"/>
<rect x="1812.9" y="2043.9" width="0.5" height="31.9" fill="#eee"/>
<rect x="1844.5" y="2043.9" width="0.5" height="31.9" fill="#999"/>
<rect x="1874.2" y="2043.9" width="0.8" height="6.4" fill="#fff"/>
<rect x="1903.6" y="2043.9" width="1.8" height="6.4" fill="#fff"/>
<rect x="1913.4" y="2043.9" width="1.1" height="31.9" fill="#aaa"/>
<rect x="1923.7" y="2043.9" width="0.5" height="31.9" fill="#888"/>
<rect x="1966.3" y="2043.9" width="0.9" height="6.4" fill="#ddd"/>
<rect x="1961.8" y="2043.9" width="0.5" height="31.9" fill="#777"/>
<path d="M971.3 2088.8H2085.5" stroke="#555" stroke-width="1"/>
<path d="M971.3 2092.3H2085.5" stroke="#9a9a9a" stroke-width="1"/>
<path d="M971.3 2122.5H2085.5" stroke="#dedeea" stroke-width="1.3"/>
<path d="M971.3 2099.7H1267.2" stroke="#3c3cb4" stroke-width="0.9"/>
<path d="M1513.1 2099.7H2013.7M2013.7 2096.7v6" stroke="#3c3cb4" stroke-width="0.9" fill="none"/>
<path d="M971.3 2095.0h2.9v9.4h-2.9ZM980.7 2095.0h6.9v9.4h-6.9ZM1267.2 2095.0h17.5v9.4h-17.5ZM1284.7 2096.8h8.2v5.8h-8.2ZM1513.1 2096.8h4.1v5.8h-4.1ZM1517.2 2095.0h7.3v9.4h-7.3ZM1537.8 2095.0h6.0v9.4h-6.0ZM1548.4 2095.0h8.1v9.4h-8.1ZM1561.9 2095.0h8.2v9.4h-8.2ZM1576.6 2095.0h7.7v9.4h-7.7ZM1593.3 2095.0h7.0v9.4h-7.0ZM1605.0 2095.0h7.8v9.4h-7.8ZM1617.4 2095.0h9.6v9.4h-9.6ZM1688.7 2095.0h9.4v9.4h-9.4ZM1702.2 2095.0h4.9v9.4h-4.9ZM1714.3 2095.0h8.2v9.4h-8.2ZM1753.6 2095.0h8.8v9.4h-8.8ZM1773.5 2095.0h5.2v9.4h-5.2ZM1786.1 2095.0h7.0v9.4h-7.0ZM1798.3 2095.0h7.0v9.4h-7.0ZM1815.6 2095.0h9.0v9.4h-9.0ZM1829.3 2095.0h6.1v9.4h-6.1ZM1842.4 2095.0h13.9v9.4h-13.9ZM1864.1 2095.0h3.6v9.4h-3.6ZM1872.6 2095.0h7.3v9.4h-7.3ZM1884.8 2095.0h8.5v9.4h-8.5ZM1898.3 2095.0h10.2v9.4h-10.2ZM1913.3 2095.0h6.6v9.4h-6.6ZM1924.0 2095.0h5.3v9.4h-5.3ZM1957.1 2095.0h10.1v9.4h-10.1ZM1970.4 2095.0h9.0v9.4h-9.0ZM1979.4 2096.8h3.8v5.8h-3.8ZM995.6 2099.7a1.4 1.4 0 1 0 2.8 0a1.4 1.4 0 1 0 -2.8 0ZM1001.1 2099.7a1.4 1.4 0 1 0 2.8 0a1.4 1.4 0 1 0 -2.8 0ZM1014.9 2099.7a1.4 1.4 0 1 0 2.8 0a1.4 1.4 0 1 0 -2.8 0ZM1020.4 2099.7a1.4 1.4 0 1 0 2.8 0a1.4 1.4 0 1 0 -2.8 0ZM1034.2 2099.7a1.4 1.4 0 1 0 2.8 0a1.4 1.4 0 1 0 -2.8 0ZM1039.7 2099.7a1.4 1.4 0 1 0 2.8 0a1.4 1.4 0 1 0 -2.8 0ZM1053.5 2099.7a1.4 1.4 0 1 0 2.8 0a1.4 1.4 0 1 0 -2.8 0ZM1059.0 2099.7a1.4 1.4 0 1 0 2.8 0a1.4 1.4 0 1 0 -2.8 0ZM1072.8 2099.7a1.4 1.4 0 1 0 2.8 0a1.4 1.4 0 1 0 -2.8 0ZM1078.3 2099.7a1.4 1.4 0 1 0 2.8 0a1.4 1.4 0 1 0 -2.8 0ZM1092.1 2099.7a1.4 1.4 0 1 0 2.8 0a1.4 1.4 0 1 0 -2.8 0ZM1097.6 2099.7a1.4 1.4 0 1 0 2.8 0a1.4 1.4 0 1 0 -2.8 0ZM1111.4 2099.7a1.4 1.4 0 1 0 2.8 0a1.4 1.4 0 1 0 -2.8 0ZM1116.9 2099.7a1.4 1.4 0 1 0 2.8 0a1.4 1.4 0 1 0 -2.8 0ZM1130.7 2099.7a1.4 1.4 0 1 0 2.8 0a1.4 1.4 0 1 0 -2.8 0ZM1136.2 2099.7a1.4 1.4 0 1 0 2.8 0a1.4 1.4 0 1 0 -2.8 0ZM1150.0 2099.7a1.4 1.4 0 1 0 2.8 0a1.4 1.4 0 1 0 -2.8 0ZM1155.5 2099.7a1.4 1.4 0 1 0 2.8 0a1.4 1.4 0 1 0 -2.8 0ZM1169.3 2099.7a1.4 1.4 0 1 0 2.8 0a1.4 1.4 0 1 0 -2.8 0ZM1174.8 2099.7a1.4 1.4 0 1 0 2.8 0a1.4 1.4 0 1 0 -2.8 0ZM1188.6 2099.7a1.4 1.4 0 1 0 2.8 0a1.4 1.4 0 1 0 -2.8 0ZM1194.1 2099.7a1.4 1.4 0 1 0 2.8 0a1.4 1.4 0 1 0 -2.8 0ZM1207.9 2099.7a1.4 1.4 0 1 0 2.8 0a1.4 1.4 0 1 0 -2.8 0ZM1213.4 2099.7a1.4 1.4 0 1 0 2.8 0a1.4 1.4 0 1 0 -2.8 0ZM1227.2 2099.7a1.4 1.4 0 1 0 2.8 0a1.4 1.4 0 1 0 -2.8 0ZM1232.7 2099.7a1.4 1.4 0 1 0 2.8 0a1.4 1.4 0 1 0 -2.8 0ZM1246.5 2099.7a1.4 1.4 0 1 0 2.8 0a1.4 1.4 0 1 0 -2.8 0ZM1252.0 2099.7a1.4 1.4 0 1 0 2.8 0a1.4 1.4 0 1 0 -2.8 0ZM1530.1 2099.7a1.4 1.4 0 1 0 2.8 0a1.4 1.4 0 1 0 -2.8 0ZM1636.2 2099.7a1.4 1.4 0 1 0 2.8 0a1.4 1.4 0 1 0 -2.8 0ZM1655.8 2099.7a1.4 1.4 0 1 0 2.8 0a1.4 1.4 0 1 0 -2.8 0ZM1675.1 2099.7a1.4 1.4 0 1 0 2.8 0a1.4 1.4 0 1 0 -2.8 0ZM1731.8 2099.7a1.4 1.4 0 1 0 2.8 0a1.4 1.4 0 1 0 -2.8 0ZM1743.6 2099.7a1.4 1.4 0 1 0 2.8 0a1.4 1.4 0 1 0 -2.8 0ZM1938.4 2099.7a1.4 1.4 0 1 0 2.8 0a1.4 1.4 0 1 0 -2.8 0ZM1991.9 2099.7a1.4 1.4 0 1 0 2.8 0a1.4 1.4 0 1 0 -2.8 0Z" fill="#0b0b9a"/>
<text x="1131.1" y="2120.1" font-size="6.2" text-anchor="middle" textLength="25.4" lengthAdjust="spacingAndGlyphs" fill="#111" stroke="#111" stroke-width="0.15">SPATC1</text>
<text x="1764.1" y="2120.1" font-size="6.2" text-anchor="middle" textLength="22.7" lengthAdjust="spacingAndGlyphs" fill="#111" stroke="#111" stroke-width="0.15">OPLAH</text>
<rect x="1272.5" y="2126.2" width="10.9" height="7" fill="#000"/>
<rect x="1360.6" y="2126.2" width="252.2" height="7" fill="#000"/>
<rect x="1786.1" y="2126.2" width="14.0" height="7" fill="#000"/>
<rect x="1888.1" y="2126.2" width="18.7" height="7" fill="#000"/>
<rect x="1959.5" y="2126.2" width="67.6" height="7" fill="#000"/>
<text x="1277.4" y="2150.8" font-size="6.2" text-anchor="middle" textLength="26.8" lengthAdjust="spacingAndGlyphs" fill="#111" stroke="#111" stroke-width="0.15">CpG:_22</text>
<text x="1486.2" y="2150.8" font-size="6.2" text-anchor="middle" textLength="30.5" lengthAdjust="spacingAndGlyphs" fill="#111" stroke="#111" stroke-width="0.15">CpG:_430</text>
<text x="1793.0" y="2150.8" font-size="6.2" text-anchor="middle" textLength="26.8" lengthAdjust="spacingAndGlyphs" fill="#111" stroke="#111" stroke-width="0.15">CpG:_23</text>
<text x="1896.7" y="2150.8" font-size="6.2" text-anchor="middle" textLength="26.8" lengthAdjust="spacingAndGlyphs" fill="#111" stroke="#111" stroke-width="0.15">CpG:_28</text>
<text x="1993.0" y="2150.8" font-size="6.2" text-anchor="middle" textLength="30.5" lengthAdjust="spacingAndGlyphs" fill="#111" stroke="#111" stroke-width="0.15">CpG:_117</text>
</g>
<rect x="970.4" y="1660.9" width="1116.3" height="492.8" fill="none" stroke="#000" stroke-width="2.3"/>
<text x="905.3" y="1688.7" font-size="18.3" text-anchor="start" textLength="53.3" lengthAdjust="spacing" stroke="#000" stroke-width="0.45">100 ng</text>
<text x="903.2" y="1725.6" font-size="18.3" text-anchor="start" textLength="53.6" lengthAdjust="spacing" stroke="#000" stroke-width="0.45">100 ng</text>
<text x="911.4" y="1760.9" font-size="18.3" text-anchor="start" textLength="44.1" lengthAdjust="spacing" stroke="#000" stroke-width="0.45">10 ng</text>
<text x="913.5" y="1803.5" font-size="18.3" text-anchor="start" textLength="44.6" lengthAdjust="spacing" stroke="#000" stroke-width="0.45">10 ng</text>
<text x="922.0" y="1836.2" font-size="18.3" text-anchor="start" textLength="35.3" lengthAdjust="spacing" stroke="#000" stroke-width="0.45">5 ng</text>
<text x="923.3" y="1878.3" font-size="18.3" text-anchor="start" textLength="34.8" lengthAdjust="spacing" stroke="#000" stroke-width="0.45">5 ng</text>
<text x="922.6" y="1912.3" font-size="18.3" text-anchor="start" textLength="33.4" lengthAdjust="spacing" stroke="#000" stroke-width="0.45">1 ng</text>
<text x="924.4" y="1953.8" font-size="18.3" text-anchor="start" textLength="33.7" lengthAdjust="spacing" stroke="#000" stroke-width="0.45">1 ng</text>
<text x="887.7" y="1986.1" font-size="18.3" text-anchor="start" textLength="68.3" lengthAdjust="spacing" stroke="#000" stroke-width="0.45">1,000 ng</text>
<text x="889.8" y="2024.0" font-size="18.3" text-anchor="start" textLength="68.3" lengthAdjust="spacing" stroke="#000" stroke-width="0.45">1,000 ng</text>
<text x="886.4" y="2065.8" font-size="18.3" text-anchor="start" textLength="69.1" lengthAdjust="spacing" stroke="#000" stroke-width="0.45">2,000 ng</text>
<text x="801.8" y="1825.4" font-size="18.3" text-anchor="start" textLength="102.1" lengthAdjust="spacing" stroke="#000" stroke-width="0.45">cfMeDIP-seq</text>
<text x="822.0" y="2002.1" font-size="18.3" text-anchor="start" textLength="50.2" lengthAdjust="spacing" stroke="#000" stroke-width="0.45">RRBS</text>
<text x="822.0" y="2065.8" font-size="18.3" text-anchor="start" textLength="55.3" lengthAdjust="spacing" stroke="#000" stroke-width="0.45">WGBS</text>
<text x="861.9" y="2135.5" font-size="18.3" text-anchor="start" textLength="96.0" lengthAdjust="spacing" stroke="#000" stroke-width="0.45">CpG islands</text>
<text x="1841.2" y="1650.7" font-size="18.2" text-anchor="start" textLength="236.8" lengthAdjust="spacing" stroke="#000" stroke-width="0.4">chr8:145,095,942-145,116,942</text>
</g>
<text x="4.0" y="19.0" font-size="31.5" text-anchor="start" font-weight="bold">a</text>
<text x="586.3" y="1086.2" font-size="31.5" text-anchor="start" font-weight="bold">b</text>
<text x="1381.5" y="1086.2" font-size="31.5" text-anchor="start" font-weight="bold">c</text>
<text x="3.0" y="1622.3" font-size="31.5" text-anchor="start" font-weight="bold">d</text>
<text x="793.0" y="1622.7" font-size="31.5" text-anchor="start" font-weight="bold">e</text>
</svg>
</body></html>
